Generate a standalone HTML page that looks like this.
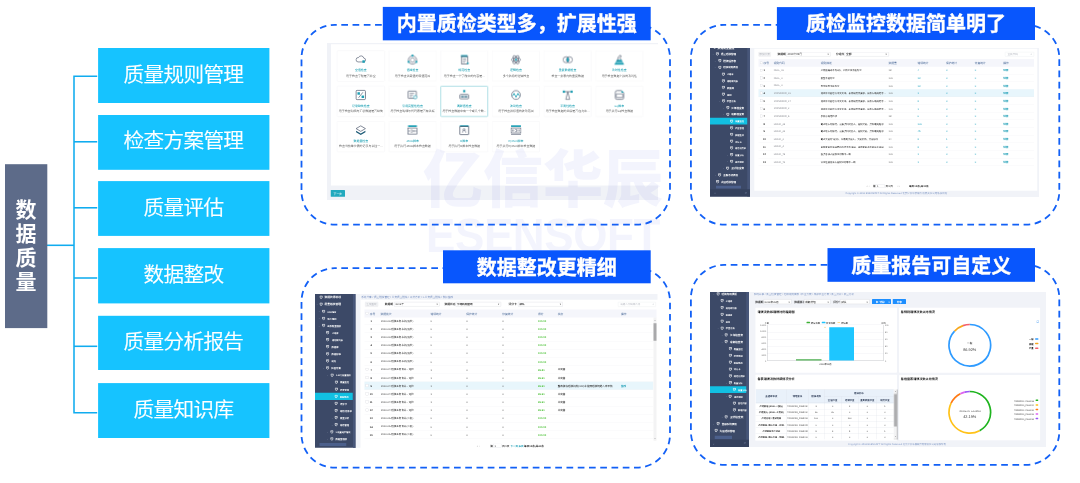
<!DOCTYPE html>
<html lang="zh-CN">
<head>
<meta charset="utf-8">
<title>数据质量</title>
<style>
*{box-sizing:border-box;margin:0;padding:0}
html,body{width:1080px;height:483px;background:#fff;overflow:hidden}
body{position:relative;font-family:"Liberation Sans", "Noto Sans CJK SC", sans-serif;}
.root{position:absolute;left:0;top:0;width:1080px;height:483px;overflow:hidden;background:#fff}
.dark{position:absolute;left:0;top:0;width:52px;text-align:center;color:#fff;font-weight:700;font-size:21px;line-height:24.3px}
.mtxt{position:absolute;left:98px;width:171.4px;color:#fff;font-weight:350;font-size:20.6px;letter-spacing:-.6px;text-indent:-.6px;line-height:30px;height:30px;text-align:center;white-space:nowrap;-webkit-text-stroke:.18px #fff;transform:translateY(-.4px)}
.title{position:absolute;color:#fff;font-weight:700;font-size:20px;text-align:center;white-space:nowrap;-webkit-text-stroke:.35px #fff;text-shadow:.3px .4px .8px rgba(0,10,80,.22)}
.wm{position:absolute;color:rgba(90,105,225,.07);font-weight:900;white-space:nowrap;text-align:center}
svg.ov{position:absolute;left:0;top:0}
.shot{position:absolute;overflow:hidden;filter:blur(.42px)}
.in{position:absolute;left:0;top:0;transform-origin:0 0;transform:scale(.25);font-size:12px;color:#555;text-rendering:geometricPrecision;-webkit-font-smoothing:antialiased}
.in div,.in span,.in svg{position:absolute;white-space:nowrap}
.in .t{line-height:16px;height:16px;filter:blur(.5px)}
</style>
</head>
<body>
<div class="root">
<svg class="ov" width="1080" height="483" viewBox="0 0 1080 483">
<rect x="301.5" y="24.8" width="368.5" height="199.9" rx="33.3" ry="33.3" fill="none" stroke="#1260f6" stroke-width="1.8" stroke-dasharray="6.7 4.55" stroke-dashoffset="-6.5"/>
<rect x="690.9" y="24.8" width="368.4" height="199.9" rx="33.3" ry="33.3" fill="none" stroke="#1260f6" stroke-width="1.8" stroke-dasharray="6.7 4.55" stroke-dashoffset="-6.5"/>
<rect x="301.5" y="268.2" width="368.5" height="199.5" rx="33.3" ry="33.3" fill="none" stroke="#1260f6" stroke-width="1.8" stroke-dasharray="6.7 4.55" stroke-dashoffset="-6.5"/>
<rect x="690.9" y="264.9" width="368.4" height="200" rx="33.3" ry="33.3" fill="none" stroke="#1260f6" stroke-width="1.8" stroke-dasharray="6.7 4.55" stroke-dashoffset="-6.5"/>
</svg>
<div class="shot" style="left:326.7px;top:43.3px;width:331.3px;height:157.2px;background:#fff"><div class="in" style="width:1325.2px;height:628.8px">
<div style="left:0px;top:0px;width:1325.2px;height:628.8px;background:#f0f2f7;"></div>
<div style="left:15.6px;top:5.2px;width:1309.6px;height:564.8px;background:#fff;"></div>
<div style="left:40px;top:30.4px;width:190.8px;height:123.6px;background:#fff;border:1.5px solid #e9e9ee;border-radius:4px;"></div>
<svg style="left:113.4px;top:44.8px" width="44" height="44" viewBox="0 0 40 40"><path d="M10 28h20a7 7 0 0 0 1-14 10 10 0 0 0-19-2 8 8 0 0 0-2 16z" fill="none" stroke="#525c70" stroke-width="2.4"/><rect x="26" y="22" width="9" height="9" fill="#1e9fb4"/></svg>
<div class="t" style="left:-64.6px;width:400px;text-align:center;top:100.9px;font-size:11.8px;color:#2aa6b8;font-weight:500;">空值检查</div>
<div class="t" style="left:-64.6px;width:400px;text-align:center;top:122.5px;font-size:11.8px;color:#5c5c5c;font-weight:400;">用于检查字段是否非空</div>
<div style="left:246.8px;top:30.4px;width:190.8px;height:123.6px;background:#fff;border:1.5px solid #e9e9ee;border-radius:4px;"></div>
<svg style="left:320.2px;top:44.8px" width="44" height="44" viewBox="0 0 40 40"><circle cx="20" cy="21" r="15" fill="none" stroke="#525c70" stroke-width="2.4"/><circle cx="20" cy="21" r="8" fill="none" stroke="#525c70" stroke-width="2"/><circle cx="20" cy="5" r="4" fill="#1e9fb4"/><circle cx="6" cy="28" r="4" fill="#1e9fb4"/><circle cx="34" cy="28" r="4" fill="#1e9fb4"/></svg>
<div class="t" style="left:142.2px;width:400px;text-align:center;top:100.9px;font-size:11.8px;color:#2aa6b8;font-weight:500;">值域检查</div>
<div class="t" style="left:142.2px;width:400px;text-align:center;top:122.5px;font-size:11.8px;color:#5c5c5c;font-weight:400;">用于检查关键值的取值范围</div>
<div style="left:453.6px;top:30.4px;width:190.8px;height:123.6px;background:#fff;border:1.5px solid #e9e9ee;border-radius:4px;"></div>
<svg style="left:527px;top:44.8px" width="44" height="44" viewBox="0 0 40 40"><rect x="8" y="3" width="24" height="7" fill="#1e9fb4"/><rect x="10" y="8" width="22" height="27" fill="none" stroke="#525c70" stroke-width="2.6"/><path d="M15 17h12M15 23h12M15 29h8" stroke="#525c70" stroke-width="2"/><rect x="30" y="30" width="6" height="6" fill="#1e9fb4"/></svg>
<div class="t" style="left:349px;width:400px;text-align:center;top:100.9px;font-size:11.8px;color:#2aa6b8;font-weight:500;">规范检查</div>
<div class="t" style="left:349px;width:400px;text-align:center;top:122.5px;font-size:11.8px;color:#5c5c5c;font-weight:400;">用于检查一个字段中的内容是...</div>
<div style="left:660.4px;top:30.4px;width:190.8px;height:123.6px;background:#fff;border:1.5px solid #e9e9ee;border-radius:4px;"></div>
<svg style="left:733.8px;top:44.8px" width="44" height="44" viewBox="0 0 40 40"><ellipse cx="20" cy="20" rx="17" ry="7" fill="none" stroke="#525c70" stroke-width="2.2"/><ellipse cx="20" cy="20" rx="17" ry="7" fill="none" stroke="#525c70" stroke-width="2.2" transform="rotate(60 20 20)"/><ellipse cx="20" cy="20" rx="17" ry="7" fill="none" stroke="#525c70" stroke-width="2.2" transform="rotate(120 20 20)"/><circle cx="20" cy="20" r="4" fill="#1e9fb4"/></svg>
<div class="t" style="left:555.8px;width:400px;text-align:center;top:100.9px;font-size:11.8px;color:#2aa6b8;font-weight:500;">逻辑检查</div>
<div class="t" style="left:555.8px;width:400px;text-align:center;top:122.5px;font-size:11.8px;color:#5c5c5c;font-weight:400;">多个指标的逻辑检查</div>
<div style="left:867.2px;top:30.4px;width:190.8px;height:123.6px;background:#fff;border:1.5px solid #e9e9ee;border-radius:4px;"></div>
<svg style="left:940.6px;top:44.8px" width="44" height="44" viewBox="0 0 40 40"><circle cx="14" cy="20" r="11" fill="none" stroke="#525c70" stroke-width="2.2"/><circle cx="26" cy="20" r="11" fill="none" stroke="#525c70" stroke-width="2.2"/><ellipse cx="20" cy="20" rx="4" ry="8" fill="#1e9fb4"/></svg>
<div class="t" style="left:762.6px;width:400px;text-align:center;top:100.9px;font-size:11.8px;color:#2aa6b8;font-weight:500;">重复数据检查</div>
<div class="t" style="left:762.6px;width:400px;text-align:center;top:122.5px;font-size:11.8px;color:#5c5c5c;font-weight:400;">检查一张表内的重复数据</div>
<div style="left:1074px;top:30.4px;width:190.8px;height:123.6px;background:#fff;border:1.5px solid #e9e9ee;border-radius:4px;"></div>
<svg style="left:1147.4px;top:44.8px" width="44" height="44" viewBox="0 0 40 40"><path d="M2 38l10-18h16l10 18z" fill="#1e9fb4"/><path d="M14 24c0-12 6-20 10-20s3 8-2 10l6 6" fill="none" stroke="#525c70" stroke-width="2.6"/><path d="M8 30h24" stroke="#fff" stroke-width="2"/></svg>
<div class="t" style="left:969.4px;width:400px;text-align:center;top:100.9px;font-size:11.8px;color:#2aa6b8;font-weight:500;">及时性检查</div>
<div class="t" style="left:969.4px;width:400px;text-align:center;top:122.5px;font-size:11.8px;color:#5c5c5c;font-weight:400;">用于检查数据上报的及时性</div>
<div style="left:40px;top:171.6px;width:190.8px;height:123.6px;background:#fff;border:1.5px solid #e9e9ee;border-radius:4px;"></div>
<svg style="left:113.4px;top:186px" width="44" height="44" viewBox="0 0 40 40"><rect x="3" y="3" width="34" height="34" rx="4" fill="none" stroke="#525c70" stroke-width="2.8"/><rect x="8" y="10" width="9" height="9" fill="#1e9fb4"/><rect x="23" y="22" width="9" height="9" fill="#1e9fb4"/><path d="M28 10L12 30" stroke="#525c70" stroke-width="2.4"/></svg>
<div class="t" style="left:-64.6px;width:400px;text-align:center;top:242.1px;font-size:11.8px;color:#2aa6b8;font-weight:500;">记录缺失检查</div>
<div class="t" style="left:-64.6px;width:400px;text-align:center;top:263.7px;font-size:11.8px;color:#5c5c5c;font-weight:400;">用于检查明细与汇总数据是否缺失</div>
<div style="left:246.8px;top:171.6px;width:190.8px;height:123.6px;background:#fff;border:1.5px solid #e9e9ee;border-radius:4px;"></div>
<svg style="left:320.2px;top:186px" width="44" height="44" viewBox="0 0 40 40"><rect x="4" y="6" width="30" height="26" rx="2" fill="none" stroke="#525c70" stroke-width="2.6"/><path d="M10 14h16M10 20h12M10 26h8" stroke="#525c70" stroke-width="2"/><circle cx="30" cy="28" r="6" fill="#fff" stroke="#1e9fb4" stroke-width="2.4"/></svg>
<div class="t" style="left:142.2px;width:400px;text-align:center;top:242.1px;font-size:11.8px;color:#2aa6b8;font-weight:500;">引用完整性检查</div>
<div class="t" style="left:142.2px;width:400px;text-align:center;top:263.7px;font-size:11.8px;color:#5c5c5c;font-weight:400;">用于检查明细与代码表是否有关联</div>
<div style="left:453.6px;top:171.6px;width:190.8px;height:123.6px;background:#fff;border:2.5px solid #62c0cd;border-radius:4px;"></div>
<svg style="left:527px;top:186px" width="44" height="44" viewBox="0 0 40 40"><rect x="16" y="2" width="8" height="8" fill="#1e9fb4"/><rect x="4" y="18" width="32" height="16" rx="3" fill="none" stroke="#525c70" stroke-width="2.6"/><path d="M10 22v8M15 22v8M20 22v8M25 22v8M30 22v8" stroke="#1f5c78" stroke-width="2.6"/></svg>
<div class="t" style="left:349px;width:400px;text-align:center;top:242.1px;font-size:11.8px;color:#2aa6b8;font-weight:500;">离群值检查</div>
<div class="t" style="left:349px;width:400px;text-align:center;top:263.7px;font-size:11.8px;color:#5c5c5c;font-weight:400;">用于检查数据中有一个或几个数...</div>
<div style="left:660.4px;top:171.6px;width:190.8px;height:123.6px;background:#fff;border:1.5px solid #e9e9ee;border-radius:4px;"></div>
<svg style="left:733.8px;top:186px" width="44" height="44" viewBox="0 0 40 40"><circle cx="20" cy="20" r="16" fill="none" stroke="#525c70" stroke-width="2.4"/><path d="M7 24l6-10 7 14 7-14 6 10" fill="none" stroke="#1e9fb4" stroke-width="3"/></svg>
<div class="t" style="left:555.8px;width:400px;text-align:center;top:242.1px;font-size:11.8px;color:#2aa6b8;font-weight:500;">波动检查</div>
<div class="t" style="left:555.8px;width:400px;text-align:center;top:263.7px;font-size:11.8px;color:#5c5c5c;font-weight:400;">用于检查指标值的波动范围</div>
<div style="left:867.2px;top:171.6px;width:190.8px;height:123.6px;background:#fff;border:1.5px solid #e9e9ee;border-radius:4px;"></div>
<svg style="left:940.6px;top:186px" width="44" height="44" viewBox="0 0 40 40"><path d="M4 8h32" stroke="#525c70" stroke-width="2.4"/><rect x="2" y="4" width="8" height="8" fill="#1e9fb4"/><rect x="30" y="4" width="8" height="8" fill="#1e9fb4"/><path d="M20 8l-7 28h14z" fill="none" stroke="#525c70" stroke-width="2.4"/></svg>
<div class="t" style="left:762.6px;width:400px;text-align:center;top:242.1px;font-size:11.8px;color:#2aa6b8;font-weight:500;">平衡性检查</div>
<div class="t" style="left:762.6px;width:400px;text-align:center;top:263.7px;font-size:11.8px;color:#5c5c5c;font-weight:400;">用于检查数据的关联是否在允许...</div>
<div style="left:1074px;top:171.6px;width:190.8px;height:123.6px;background:#fff;border:1.5px solid #e9e9ee;border-radius:4px;"></div>
<svg style="left:1147.4px;top:186px" width="44" height="44" viewBox="0 0 40 40"><path d="M6 10a6 6 0 0 1 6-6h16l8 8v18a6 6 0 0 1-6 6H12a6 6 0 0 1-6-6z" fill="none" stroke="#525c70" stroke-width="2.6"/><rect x="9" y="16" width="24" height="13" rx="2" fill="none" stroke="#525c70" stroke-width="2.2"/><path d="M28 3l9 9h-9z" fill="#1e9fb4"/></svg>
<div class="t" style="left:969.4px;width:400px;text-align:center;top:242.1px;font-size:11.8px;color:#2aa6b8;font-weight:500;">sql脚本</div>
<div class="t" style="left:969.4px;width:400px;text-align:center;top:263.7px;font-size:11.8px;color:#5c5c5c;font-weight:400;">用于执行sql检查数据</div>
<div style="left:40px;top:312.8px;width:190.8px;height:123.6px;background:#fff;border:1.5px solid #e9e9ee;border-radius:4px;"></div>
<svg style="left:113.4px;top:327.2px" width="44" height="44" viewBox="0 0 40 40"><path d="M20 4l17 10-17 10L3 14z" fill="none" stroke="#525c70" stroke-width="2.6"/><path d="M3 22l17 10 17-10v5L20 37 3 27z" fill="#1f5c78"/></svg>
<div class="t" style="left:-64.6px;width:400px;text-align:center;top:383.3px;font-size:11.8px;color:#2aa6b8;font-weight:500;">数据量检查</div>
<div class="t" style="left:-64.6px;width:400px;text-align:center;top:404.9px;font-size:11.8px;color:#5c5c5c;font-weight:400;">检查当前单位表的记录与以往一...</div>
<div style="left:246.8px;top:312.8px;width:190.8px;height:123.6px;background:#fff;border:1.5px solid #e9e9ee;border-radius:4px;"></div>
<svg style="left:320.2px;top:327.2px" width="44" height="44" viewBox="0 0 40 40"><rect x="4" y="2" width="32" height="6" fill="#1e9fb4"/><rect x="4" y="12" width="32" height="22" fill="none" stroke="#525c70" stroke-width="2.4"/><path d="M9 19v8M14 19h6v8h-6M25 19v8M31 19v8" stroke="#525c70" stroke-width="2" fill="none"/></svg>
<div class="t" style="left:142.2px;width:400px;text-align:center;top:383.3px;font-size:11.8px;color:#2aa6b8;font-weight:500;">JAVA脚本</div>
<div class="t" style="left:142.2px;width:400px;text-align:center;top:404.9px;font-size:11.8px;color:#5c5c5c;font-weight:400;">用于执行JAVA脚本检查数据</div>
<div style="left:453.6px;top:312.8px;width:190.8px;height:123.6px;background:#fff;border:1.5px solid #e9e9ee;border-radius:4px;"></div>
<svg style="left:527px;top:327.2px" width="44" height="44" viewBox="0 0 40 40"><rect x="4" y="2" width="32" height="6" fill="#1e9fb4"/><rect x="4" y="6" width="32" height="30" rx="2" fill="none" stroke="#525c70" stroke-width="2.8"/><path d="M16 15h7v6h-7zM16 21l-2 8M23 21l3 8" stroke="#525c70" stroke-width="2" fill="none"/></svg>
<div class="t" style="left:349px;width:400px;text-align:center;top:383.3px;font-size:11.8px;color:#2aa6b8;font-weight:500;">R脚本</div>
<div class="t" style="left:349px;width:400px;text-align:center;top:404.9px;font-size:11.8px;color:#5c5c5c;font-weight:400;">用于执行R脚本检查数据</div>
<div style="left:660.4px;top:312.8px;width:190.8px;height:123.6px;background:#fff;border:1.5px solid #e9e9ee;border-radius:4px;"></div>
<svg style="left:733.8px;top:327.2px" width="44" height="44" viewBox="0 0 40 40"><rect x="2" y="2" width="36" height="6" fill="#1e9fb4"/><rect x="2" y="12" width="36" height="18" fill="none" stroke="#525c70" stroke-width="2.4"/><path d="M7 17v8M12 17v8M17 17h5v8h-5M27 17v8M32 17v8" stroke="#525c70" stroke-width="2" fill="none"/><path d="M2 35h36" stroke="#525c70" stroke-width="2.4"/></svg>
<div class="t" style="left:555.8px;width:400px;text-align:center;top:383.3px;font-size:11.8px;color:#2aa6b8;font-weight:500;">Python脚本</div>
<div class="t" style="left:555.8px;width:400px;text-align:center;top:404.9px;font-size:11.8px;color:#5c5c5c;font-weight:400;">用于执行Python脚本检查数据</div>
<div style="left:14.8px;top:587.6px;width:57.6px;height:27.2px;background:#22a9be;border-radius:2px;"></div>
<div class="t" style="left:-156.4px;width:400px;text-align:center;top:594.5px;font-size:11.5px;color:#fff;font-weight:400;">下一步</div>
</div></div>
<div class="shot" style="left:710px;top:48.1px;width:329.4px;height:148.8px;background:#f1f3f8"><div class="in" style="width:1317.6px;height:595.2px">
<div style="left:0px;top:0px;width:160px;height:593.6px;background:#3c4967;"></div>
<div style="left:149.2px;top:0px;width:10.8px;height:593.6px;background:#475679;"></div>
<div style="left:0px;top:565.2px;width:160px;height:28.4px;background:#35415d;"></div>
<svg style="left:11.9px;top:-9.8px" width="13" height="14" viewBox="0 0 12 13"><path d="M1.500 1.500h9v6.500l-4.500 3.500l-4.500-3.500z" fill="none" stroke="#fff" stroke-width="2.5"/><path d="M4 5h4" stroke="#fff" stroke-width="2"/></svg>
<div class="t" style="left:30.4px;top:-9.5px;font-size:11.2px;color:#fff;font-weight:700;">数据质量监控</div>
<div class="t" style="left:-188px;width:400px;text-align:center;top:16.57px;font-size:9px;color:#a9b4cc;font-weight:400;">-</div>
<svg style="left:22.7px;top:17.07px" width="13" height="14" viewBox="0 0 12 13"><path d="M1.500 1.500h9v6.500l-4.500 3.500l-4.500-3.500z" fill="none" stroke="#fff" stroke-width="2.5"/><path d="M4 5h4" stroke="#fff" stroke-width="2"/></svg>
<div class="t" style="left:43.6px;top:17.37px;font-size:10.07px;color:#fff;font-weight:700;">质量稽核管理</div>
<div class="t" style="left:-179.2px;width:400px;text-align:center;top:43.44px;font-size:9px;color:#a9b4cc;font-weight:400;">›</div>
<svg style="left:33.1px;top:43.94px" width="13" height="14" viewBox="0 0 12 13"><path d="M1.500 1.500h9v6.500l-4.500 3.500l-4.500-3.500z" fill="none" stroke="#fff" stroke-width="2.5"/><path d="M4 5h4" stroke="#fff" stroke-width="2"/></svg>
<div class="t" style="left:53.2px;top:44.24px;font-size:10.32px;color:#fff;font-weight:700;">稽核任务表</div>
<div class="t" style="left:-179.2px;width:400px;text-align:center;top:70.3px;font-size:9px;color:#a9b4cc;font-weight:400;">-</div>
<svg style="left:33.1px;top:70.8px" width="13" height="14" viewBox="0 0 12 13"><path d="M1.500 1.500h9v6.500l-4.500 3.500l-4.500-3.500z" fill="none" stroke="#fff" stroke-width="2.5"/><path d="M4 5h4" stroke="#fff" stroke-width="2"/></svg>
<div class="t" style="left:53.2px;top:71.1px;font-size:9.8px;color:#fff;font-weight:700;">稽核规则模板</div>
<svg style="left:46.7px;top:97.67px" width="13" height="14" viewBox="0 0 12 13"><path d="M1.500 1.500h9v6.500l-4.500 3.500l-4.500-3.500z" fill="none" stroke="#fff" stroke-width="2.5"/><path d="M4 5h4" stroke="#fff" stroke-width="2"/></svg>
<div class="t" style="left:67.6px;top:97.97px;font-size:8.67px;color:#fff;font-weight:700;">上级库</div>
<svg style="left:46.7px;top:124.54px" width="13" height="14" viewBox="0 0 12 13"><path d="M1.500 1.500h9v6.500l-4.500 3.500l-4.500-3.500z" fill="none" stroke="#fff" stroke-width="2.5"/><path d="M4 5h4" stroke="#fff" stroke-width="2"/></svg>
<div class="t" style="left:67.6px;top:124.84px;font-size:8.88px;color:#fff;font-weight:700;">规则库列表</div>
<svg style="left:46.7px;top:151.41px" width="13" height="14" viewBox="0 0 12 13"><path d="M1.500 1.500h9v6.500l-4.500 3.500l-4.500-3.500z" fill="none" stroke="#fff" stroke-width="2.5"/><path d="M4 5h4" stroke="#fff" stroke-width="2"/></svg>
<div class="t" style="left:67.6px;top:151.71px;font-size:9.47px;color:#fff;font-weight:700;">数据库</div>
<svg style="left:46.7px;top:178.28px" width="13" height="14" viewBox="0 0 12 13"><path d="M1.500 1.500h9v6.500l-4.500 3.500l-4.500-3.500z" fill="none" stroke="#fff" stroke-width="2.5"/><path d="M4 5h4" stroke="#fff" stroke-width="2"/></svg>
<div class="t" style="left:67.6px;top:178.58px;font-size:9px;color:#fff;font-weight:700;">规则</div>
<div class="t" style="left:-162px;width:400px;text-align:center;top:204.64px;font-size:9px;color:#a9b4cc;font-weight:400;">-</div>
<svg style="left:48.3px;top:205.14px" width="13" height="14" viewBox="0 0 12 13"><path d="M1.500 1.500h9v6.500l-4.500 3.500l-4.500-3.500z" fill="none" stroke="#fff" stroke-width="2.5"/><path d="M4 5h4" stroke="#fff" stroke-width="2"/></svg>
<div class="t" style="left:67.2px;top:205.44px;font-size:8.9px;color:#fff;font-weight:700;">检查方案</div>
<div class="t" style="left:-146.4px;width:400px;text-align:center;top:231.51px;font-size:9px;color:#a9b4cc;font-weight:400;">›</div>
<svg style="left:65.1px;top:232.01px" width="13" height="14" viewBox="0 0 12 13"><path d="M1.500 1.500h9v6.500l-4.500 3.500l-4.500-3.500z" fill="none" stroke="#fff" stroke-width="2.5"/><path d="M4 5h4" stroke="#fff" stroke-width="2"/></svg>
<div class="t" style="left:85.2px;top:232.31px;font-size:10.24px;color:#fff;font-weight:700;">江海检查案</div>
<div class="t" style="left:-146.4px;width:400px;text-align:center;top:258.38px;font-size:9px;color:#a9b4cc;font-weight:400;">-</div>
<svg style="left:65.1px;top:258.88px" width="13" height="14" viewBox="0 0 12 13"><path d="M1.500 1.500h9v6.500l-4.500 3.500l-4.500-3.500z" fill="none" stroke="#fff" stroke-width="2.5"/><path d="M4 5h4" stroke="#fff" stroke-width="2"/></svg>
<div class="t" style="left:85.2px;top:259.18px;font-size:10.24px;color:#fff;font-weight:700;">成都检查案</div>
<div style="left:0px;top:279.11px;width:149.2px;height:27.27px;background:#12c0e2;"></div>
<svg style="left:79.5px;top:285.75px" width="13" height="14" viewBox="0 0 12 13"><path d="M1.500 1.500h9v6.500l-4.500 3.500l-4.500-3.500z" fill="none" stroke="#fff" stroke-width="2.5"/><path d="M4 5h4" stroke="#fff" stroke-width="2"/></svg>
<div class="t" style="left:100.8px;top:286.05px;font-size:8.6px;color:#fff;font-weight:700;">质量监控</div>
<svg style="left:79.5px;top:312.62px" width="13" height="14" viewBox="0 0 12 13"><path d="M1.500 1.500h9v6.500l-4.500 3.500l-4.500-3.500z" fill="none" stroke="#fff" stroke-width="2.5"/><path d="M4 5h4" stroke="#fff" stroke-width="2"/></svg>
<div class="t" style="left:100.8px;top:312.92px;font-size:8.6px;color:#fff;font-weight:700;">检查管理</div>
<svg style="left:79.5px;top:339.48px" width="13" height="14" viewBox="0 0 12 13"><path d="M1.500 1.500h9v6.500l-4.500 3.500l-4.500-3.500z" fill="none" stroke="#fff" stroke-width="2.5"/><path d="M4 5h4" stroke="#fff" stroke-width="2"/></svg>
<div class="t" style="left:100.8px;top:339.78px;font-size:8.6px;color:#fff;font-weight:700;">数据整改</div>
<svg style="left:79.5px;top:366.35px" width="13" height="14" viewBox="0 0 12 13"><path d="M1.500 1.500h9v6.500l-4.500 3.500l-4.500-3.500z" fill="none" stroke="#fff" stroke-width="2.5"/><path d="M4 5h4" stroke="#fff" stroke-width="2"/></svg>
<div class="t" style="left:100.8px;top:366.65px;font-size:8.6px;color:#fff;font-weight:700;">评分卡</div>
<svg style="left:79.9px;top:393.22px" width="13" height="14" viewBox="0 0 12 13"><path d="M1.500 1.500h9v6.500l-4.500 3.500l-4.500-3.500z" fill="none" stroke="#fff" stroke-width="2.5"/><path d="M4 5h4" stroke="#fff" stroke-width="2"/></svg>
<div class="t" style="left:100.4px;top:393.52px;font-size:8.6px;color:#fff;font-weight:700;">规范化清单</div>
<div class="t" style="left:-130px;width:400px;text-align:center;top:419.59px;font-size:9px;color:#a9b4cc;font-weight:400;">›</div>
<svg style="left:79.9px;top:420.09px" width="13" height="14" viewBox="0 0 12 13"><path d="M1.500 1.500h9v6.500l-4.500 3.500l-4.500-3.500z" fill="none" stroke="#fff" stroke-width="2.5"/><path d="M4 5h4" stroke="#fff" stroke-width="2"/></svg>
<div class="t" style="left:100.4px;top:420.39px;font-size:8.6px;color:#fff;font-weight:700;">质量分析</div>
<div class="t" style="left:-130px;width:400px;text-align:center;top:446.46px;font-size:9px;color:#a9b4cc;font-weight:400;">›</div>
<svg style="left:79.9px;top:446.96px" width="13" height="14" viewBox="0 0 12 13"><path d="M1.500 1.500h9v6.500l-4.500 3.500l-4.500-3.500z" fill="none" stroke="#fff" stroke-width="2.5"/><path d="M4 5h4" stroke="#fff" stroke-width="2"/></svg>
<div class="t" style="left:100.4px;top:447.26px;font-size:8.6px;color:#fff;font-weight:700;">规范管理</div>
<div class="t" style="left:-146px;width:400px;text-align:center;top:473.32px;font-size:9px;color:#a9b4cc;font-weight:400;">›</div>
<svg style="left:64.3px;top:473.82px" width="13" height="14" viewBox="0 0 12 13"><path d="M1.500 1.500h9v6.500l-4.500 3.500l-4.500-3.500z" fill="none" stroke="#fff" stroke-width="2.5"/><path d="M4 5h4" stroke="#fff" stroke-width="2"/></svg>
<div class="t" style="left:85.2px;top:474.12px;font-size:10.16px;color:#fff;font-weight:700;">卫计检查案</div>
<div class="t" style="left:-178px;width:400px;text-align:center;top:500.19px;font-size:9px;color:#a9b4cc;font-weight:400;">›</div>
<svg style="left:31.9px;top:500.69px" width="13" height="14" viewBox="0 0 12 13"><path d="M1.500 1.500h9v6.500l-4.500 3.500l-4.500-3.500z" fill="none" stroke="#fff" stroke-width="2.5"/><path d="M4 5h4" stroke="#fff" stroke-width="2"/></svg>
<div class="t" style="left:53.2px;top:500.99px;font-size:9.8px;color:#fff;font-weight:700;">金融系统模板</div>
<svg style="left:23.5px;top:527.56px" width="13" height="14" viewBox="0 0 12 13"><path d="M1.500 1.500h9v6.500l-4.500 3.500l-4.500-3.500z" fill="none" stroke="#fff" stroke-width="2.5"/><path d="M4 5h4" stroke="#fff" stroke-width="2"/></svg>
<div class="t" style="left:43.6px;top:527.86px;font-size:10.07px;color:#fff;font-weight:700;">大区稽核管理</div>
<div style="left:24.4px;top:551.2px;width:100px;height:10.4px;background:#4c608c;"></div>
<div class="t" style="left:-180px;width:400px;text-align:center;top:572.1px;font-size:12px;color:#7f8cab;font-weight:400;">«</div>
<div class="t" style="left:-56px;width:400px;text-align:center;top:572.1px;font-size:11px;color:#7f8cab;font-weight:400;">⟳</div>
<div style="left:176.8px;top:3.2px;width:1129.6px;height:568px;background:#fff;"></div>
<div style="left:194px;top:15.6px;width:49.2px;height:18.4px;background:#f1f2f4;border:1px solid #e3e4e8;border-radius:2px;"></div>
<div class="t" style="left:18.4px;width:400px;text-align:center;top:18.1px;font-size:10.5px;color:#b3b6bd;font-weight:400;">添加任务</div>
<div class="t" style="left:269.6px;top:18.1px;font-size:11px;color:#333;font-weight:700;">数据期</div>
<div style="left:304px;top:16.4px;width:178px;height:17.2px;background:#fff;border:1.5px solid #c3c6ce;border-radius:2px;"></div>
<div class="t" style="left:309.6px;top:18.1px;font-size:11px;color:#444;font-weight:400;">2019年09月</div>
<div class="t" style="left:469.6px;top:18.1px;font-size:10px;color:#555;font-weight:400;">▾</div>
<div class="t" style="left:504.4px;top:18.1px;font-size:11px;color:#333;font-weight:700;">分组件</div>
<div style="left:538.4px;top:16.4px;width:176.8px;height:17.2px;background:#fff;border:1.5px solid #c3c6ce;border-radius:2px;"></div>
<div class="t" style="left:544px;top:18.1px;font-size:11px;color:#333;font-weight:700;">全部</div>
<div class="t" style="left:702.4px;top:18.1px;font-size:10px;color:#555;font-weight:400;">▾</div>
<div style="left:1180px;top:15.6px;width:116px;height:18.4px;background:#fff;border:1px solid #e0e2e7;border-radius:2px;"></div>
<div class="t" style="left:1189.6px;top:18.1px;font-size:10.5px;color:#b9bcc4;font-weight:400;">查找代码</div>
<div class="t" style="left:1281.6px;top:18.1px;font-size:11px;color:#9aa0ab;font-weight:400;">○</div>
<div style="left:194.4px;top:44.4px;width:1101.6px;height:30.8px;background:#f5f6fb;"></div>
<div class="t" style="left:214.4px;top:52.9px;font-size:11px;color:#6680a8;font-weight:500;">序号</div>
<div class="t" style="left:254.8px;top:52.9px;font-size:11px;color:#6680a8;font-weight:500;">规则代码</div>
<div class="t" style="left:442.8px;top:52.9px;font-size:11px;color:#6680a8;font-weight:500;">规则描述</div>
<div class="t" style="left:714.4px;top:52.9px;font-size:11px;color:#6680a8;font-weight:500;">数据量</div>
<div class="t" style="left:830px;top:52.9px;font-size:11px;color:#6680a8;font-weight:500;">错误统计</div>
<div class="t" style="left:944px;top:52.9px;font-size:11px;color:#6680a8;font-weight:500;">保护统计</div>
<div class="t" style="left:1058.8px;top:52.9px;font-size:11px;color:#6680a8;font-weight:500;">修复统计</div>
<div class="t" style="left:1172.8px;top:52.9px;font-size:11px;color:#6680a8;font-weight:500;">操作</div>
<div style="left:200px;top:54.8px;width:9.6px;height:9.6px;background:#fff;border:1px solid #c9ccd4;"></div>
<div style="left:194.4px;top:103.8px;width:1101.6px;height:0.8px;background:#eceef2;"></div>
<div style="left:200px;top:83.6px;width:8.8px;height:10.4px;background:#fff;border:1px solid #c9ccd4;"></div>
<div class="t" style="left:214.4px;top:82.1px;font-size:10.5px;color:#333;font-weight:700;">1</div>
<div class="t" style="left:254.8px;top:82.1px;font-size:9.6px;color:#85878e;font-weight:400;">NULL_16</div>
<div class="t" style="left:442.8px;top:82.1px;font-size:9.3px;color:#3c3c3c;font-weight:500;">严格按编码不为3的、严格空项不能为空</div>
<div class="t" style="left:714.4px;top:82.1px;font-size:10.5px;color:#777;font-weight:400;">18</div>
<div class="t" style="left:830px;top:82.1px;font-size:10.5px;color:#22a3c0;font-weight:500;">4</div>
<div class="t" style="left:944px;top:82.1px;font-size:10.5px;color:#22a3c0;font-weight:500;">0</div>
<div class="t" style="left:1058.8px;top:82.1px;font-size:10.5px;color:#22a3c0;font-weight:500;">0</div>
<div class="t" style="left:1172.8px;top:82.1px;font-size:10.5px;color:#1f9fb6;font-weight:700;">详情</div>
<div style="left:194.4px;top:134.32px;width:1101.6px;height:0.8px;background:#eceef2;"></div>
<div style="left:200px;top:114.12px;width:8.8px;height:10.4px;background:#fff;border:1px solid #c9ccd4;"></div>
<div class="t" style="left:214.4px;top:112.62px;font-size:10.5px;color:#333;font-weight:700;">2</div>
<div class="t" style="left:254.8px;top:112.62px;font-size:9.6px;color:#85878e;font-weight:400;">NULL_3</div>
<div class="t" style="left:442.8px;top:112.62px;font-size:9.3px;color:#3c3c3c;font-weight:500;">批签不能为空</div>
<div class="t" style="left:714.4px;top:112.62px;font-size:10.5px;color:#777;font-weight:400;">100</div>
<div class="t" style="left:830px;top:112.62px;font-size:10.5px;color:#22a3c0;font-weight:500;">13</div>
<div class="t" style="left:944px;top:112.62px;font-size:10.5px;color:#22a3c0;font-weight:500;">0</div>
<div class="t" style="left:1058.8px;top:112.62px;font-size:10.5px;color:#22a3c0;font-weight:500;">0</div>
<div class="t" style="left:1172.8px;top:112.62px;font-size:10.5px;color:#1f9fb6;font-weight:700;">详情</div>
<div style="left:194.4px;top:164.84px;width:1101.6px;height:0.8px;background:#eceef2;"></div>
<div style="left:200px;top:144.64px;width:8.8px;height:10.4px;background:#fff;border:1px solid #c9ccd4;"></div>
<div class="t" style="left:214.4px;top:143.14px;font-size:10.5px;color:#333;font-weight:700;">3</div>
<div class="t" style="left:254.8px;top:143.14px;font-size:9.6px;color:#85878e;font-weight:400;">NULL_3</div>
<div class="t" style="left:442.8px;top:143.14px;font-size:9.3px;color:#3c3c3c;font-weight:500;">签字项签不能为空</div>
<div class="t" style="left:714.4px;top:143.14px;font-size:10.5px;color:#777;font-weight:400;">100</div>
<div class="t" style="left:830px;top:143.14px;font-size:10.5px;color:#22a3c0;font-weight:500;">13</div>
<div class="t" style="left:944px;top:143.14px;font-size:10.5px;color:#22a3c0;font-weight:500;">0</div>
<div class="t" style="left:1058.8px;top:143.14px;font-size:10.5px;color:#22a3c0;font-weight:500;">0</div>
<div class="t" style="left:1172.8px;top:143.14px;font-size:10.5px;color:#1f9fb6;font-weight:700;">详情</div>
<div style="left:194.4px;top:165.16px;width:1101.6px;height:30.4px;background:#e8f6fc;"></div>
<div style="left:194.4px;top:195.36px;width:1101.6px;height:0.8px;background:#eceef2;"></div>
<div style="left:200px;top:175.16px;width:8.8px;height:10.4px;background:#fff;border:1px solid #c9ccd4;"></div>
<div class="t" style="left:214.4px;top:173.66px;font-size:10.5px;color:#333;font-weight:700;">4</div>
<div class="t" style="left:254.8px;top:173.66px;font-size:9.6px;color:#85878e;font-weight:400;">STANDARD_16</div>
<div class="t" style="left:442.8px;top:173.66px;font-size:9.3px;color:#3c3c3c;font-weight:500;">测试中只能包含中文文本、长格规范合要求、长格入纸规范字 ...</div>
<div class="t" style="left:714.4px;top:173.66px;font-size:10.5px;color:#777;font-weight:400;">100</div>
<div class="t" style="left:830px;top:173.66px;font-size:10.5px;color:#22a3c0;font-weight:500;">1</div>
<div class="t" style="left:944px;top:173.66px;font-size:10.5px;color:#22a3c0;font-weight:500;">0</div>
<div class="t" style="left:1058.8px;top:173.66px;font-size:10.5px;color:#22a3c0;font-weight:500;">0</div>
<div class="t" style="left:1172.8px;top:173.66px;font-size:10.5px;color:#1f9fb6;font-weight:700;">详情</div>
<div style="left:194.4px;top:225.88px;width:1101.6px;height:0.8px;background:#eceef2;"></div>
<div style="left:200px;top:205.68px;width:8.8px;height:10.4px;background:#fff;border:1px solid #c9ccd4;"></div>
<div class="t" style="left:214.4px;top:204.18px;font-size:10.5px;color:#333;font-weight:700;">5</div>
<div class="t" style="left:254.8px;top:204.18px;font-size:9.6px;color:#85878e;font-weight:400;">STANDARD_17</div>
<div class="t" style="left:442.8px;top:204.18px;font-size:9.3px;color:#3c3c3c;font-weight:500;">测试中只能包含中文文本、长格规范合要求、长格入纸规范字 ...</div>
<div class="t" style="left:714.4px;top:204.18px;font-size:10.5px;color:#777;font-weight:400;">100</div>
<div class="t" style="left:830px;top:204.18px;font-size:10.5px;color:#22a3c0;font-weight:500;">2</div>
<div class="t" style="left:944px;top:204.18px;font-size:10.5px;color:#22a3c0;font-weight:500;">0</div>
<div class="t" style="left:1058.8px;top:204.18px;font-size:10.5px;color:#22a3c0;font-weight:500;">0</div>
<div class="t" style="left:1172.8px;top:204.18px;font-size:10.5px;color:#1f9fb6;font-weight:700;">详情</div>
<div style="left:194.4px;top:256.4px;width:1101.6px;height:0.8px;background:#eceef2;"></div>
<div style="left:200px;top:236.2px;width:8.8px;height:10.4px;background:#fff;border:1px solid #c9ccd4;"></div>
<div class="t" style="left:214.4px;top:234.7px;font-size:10.5px;color:#333;font-weight:700;">6</div>
<div class="t" style="left:254.8px;top:234.7px;font-size:9.6px;color:#85878e;font-weight:400;">STANDARD_2</div>
<div class="t" style="left:442.8px;top:234.7px;font-size:9.3px;color:#3c3c3c;font-weight:500;">测试中只能包含中文文本、长格规范合要求、长格入纸规范字 ...</div>
<div class="t" style="left:714.4px;top:234.7px;font-size:10.5px;color:#777;font-weight:400;">100</div>
<div class="t" style="left:830px;top:234.7px;font-size:10.5px;color:#22a3c0;font-weight:500;">1</div>
<div class="t" style="left:944px;top:234.7px;font-size:10.5px;color:#22a3c0;font-weight:500;">0</div>
<div class="t" style="left:1058.8px;top:234.7px;font-size:10.5px;color:#22a3c0;font-weight:500;">0</div>
<div class="t" style="left:1172.8px;top:234.7px;font-size:10.5px;color:#1f9fb6;font-weight:700;">详情</div>
<div style="left:194.4px;top:286.92px;width:1101.6px;height:0.8px;background:#eceef2;"></div>
<div style="left:200px;top:266.72px;width:8.8px;height:10.4px;background:#fff;border:1px solid #c9ccd4;"></div>
<div class="t" style="left:214.4px;top:265.22px;font-size:10.5px;color:#333;font-weight:700;">7</div>
<div class="t" style="left:254.8px;top:265.22px;font-size:9.6px;color:#85878e;font-weight:400;">STANDARD_5</div>
<div class="t" style="left:442.8px;top:265.22px;font-size:9.3px;color:#3c3c3c;font-weight:500;">手机号规范检验</div>
<div class="t" style="left:714.4px;top:265.22px;font-size:10.5px;color:#777;font-weight:400;">18</div>
<div class="t" style="left:830px;top:265.22px;font-size:10.5px;color:#22a3c0;font-weight:500;">6</div>
<div class="t" style="left:944px;top:265.22px;font-size:10.5px;color:#22a3c0;font-weight:500;">0</div>
<div class="t" style="left:1058.8px;top:265.22px;font-size:10.5px;color:#22a3c0;font-weight:500;">0</div>
<div class="t" style="left:1172.8px;top:265.22px;font-size:10.5px;color:#1f9fb6;font-weight:700;">详情</div>
<div style="left:194.4px;top:317.44px;width:1101.6px;height:0.8px;background:#eceef2;"></div>
<div class="t" style="left:214.4px;top:295.74px;font-size:10.5px;color:#333;font-weight:700;">8</div>
<div class="t" style="left:254.8px;top:295.74px;font-size:9.6px;color:#85878e;font-weight:400;">LOGIC_28</div>
<div class="t" style="left:442.8px;top:295.74px;font-size:9.3px;color:#3c3c3c;font-weight:500;">截止地市为银行、需要资料对比人、股权交易、资料填充超过</div>
<div class="t" style="left:714.4px;top:295.74px;font-size:10.5px;color:#777;font-weight:400;">100</div>
<div class="t" style="left:830px;top:295.74px;font-size:10.5px;color:#22a3c0;font-weight:500;">100</div>
<div class="t" style="left:944px;top:295.74px;font-size:10.5px;color:#22a3c0;font-weight:500;">0</div>
<div class="t" style="left:1058.8px;top:295.74px;font-size:10.5px;color:#22a3c0;font-weight:500;">0</div>
<div class="t" style="left:1172.8px;top:295.74px;font-size:10.5px;color:#1f9fb6;font-weight:700;">详情</div>
<div style="left:194.4px;top:347.96px;width:1101.6px;height:0.8px;background:#eceef2;"></div>
<div class="t" style="left:214.4px;top:326.26px;font-size:10.5px;color:#333;font-weight:700;">9</div>
<div class="t" style="left:254.8px;top:326.26px;font-size:9.6px;color:#85878e;font-weight:400;">LOGIC_26</div>
<div class="t" style="left:442.8px;top:326.26px;font-size:9.3px;color:#3c3c3c;font-weight:500;">截止地市为银行、需要资料对比人、股权交易、资料填充超过</div>
<div class="t" style="left:714.4px;top:326.26px;font-size:10.5px;color:#777;font-weight:400;">100</div>
<div class="t" style="left:830px;top:326.26px;font-size:10.5px;color:#22a3c0;font-weight:500;">45</div>
<div class="t" style="left:944px;top:326.26px;font-size:10.5px;color:#22a3c0;font-weight:500;">0</div>
<div class="t" style="left:1058.8px;top:326.26px;font-size:10.5px;color:#22a3c0;font-weight:500;">0</div>
<div class="t" style="left:1172.8px;top:326.26px;font-size:10.5px;color:#1f9fb6;font-weight:700;">详情</div>
<div style="left:194.4px;top:378.48px;width:1101.6px;height:0.8px;background:#eceef2;"></div>
<div class="t" style="left:212px;top:356.78px;font-size:10.5px;color:#333;font-weight:700;">10</div>
<div class="t" style="left:254.8px;top:356.78px;font-size:9.6px;color:#85878e;font-weight:400;">LOGIC_2</div>
<div class="t" style="left:442.8px;top:356.78px;font-size:9.3px;color:#3c3c3c;font-weight:500;">截止交易为"是"的、认缴其交易人、交易价格、交易原因</div>
<div class="t" style="left:714.4px;top:356.78px;font-size:10.5px;color:#777;font-weight:400;">14</div>
<div class="t" style="left:830px;top:356.78px;font-size:10.5px;color:#22a3c0;font-weight:500;">2</div>
<div class="t" style="left:944px;top:356.78px;font-size:10.5px;color:#22a3c0;font-weight:500;">1</div>
<div class="t" style="left:1058.8px;top:356.78px;font-size:10.5px;color:#22a3c0;font-weight:500;">0</div>
<div class="t" style="left:1172.8px;top:356.78px;font-size:10.5px;color:#1f9fb6;font-weight:700;">详情</div>
<div style="left:194.4px;top:409px;width:1101.6px;height:0.8px;background:#eceef2;"></div>
<div class="t" style="left:212px;top:387.3px;font-size:10.5px;color:#333;font-weight:700;">11</div>
<div class="t" style="left:254.8px;top:387.3px;font-size:9.6px;color:#85878e;font-weight:400;">LOGIC_4</div>
<div class="t" style="left:442.8px;top:387.3px;font-size:9.3px;color:#3c3c3c;font-weight:500;">更改变更为法回复的内容不为法回、更改变更必不能长于法回</div>
<div class="t" style="left:714.4px;top:387.3px;font-size:10.5px;color:#777;font-weight:400;">100</div>
<div class="t" style="left:830px;top:387.3px;font-size:10.5px;color:#22a3c0;font-weight:500;">2</div>
<div class="t" style="left:944px;top:387.3px;font-size:10.5px;color:#22a3c0;font-weight:500;">0</div>
<div class="t" style="left:1058.8px;top:387.3px;font-size:10.5px;color:#22a3c0;font-weight:500;">0</div>
<div class="t" style="left:1172.8px;top:387.3px;font-size:10.5px;color:#1f9fb6;font-weight:700;">详情</div>
<div style="left:194.4px;top:439.52px;width:1101.6px;height:0.8px;background:#eceef2;"></div>
<div class="t" style="left:212px;top:417.82px;font-size:10.5px;color:#333;font-weight:700;">12</div>
<div class="t" style="left:254.8px;top:417.82px;font-size:9.6px;color:#85878e;font-weight:400;">LOGIC_75</div>
<div class="t" style="left:442.8px;top:417.82px;font-size:9.3px;color:#3c3c3c;font-weight:500;">投资总法人股权证对等不一致</div>
<div class="t" style="left:714.4px;top:417.82px;font-size:10.5px;color:#777;font-weight:400;">100</div>
<div class="t" style="left:830px;top:417.82px;font-size:10.5px;color:#22a3c0;font-weight:500;">1</div>
<div class="t" style="left:944px;top:417.82px;font-size:10.5px;color:#22a3c0;font-weight:500;">0</div>
<div class="t" style="left:1058.8px;top:417.82px;font-size:10.5px;color:#22a3c0;font-weight:500;">0</div>
<div class="t" style="left:1172.8px;top:417.82px;font-size:10.5px;color:#1f9fb6;font-weight:700;">详情</div>
<div style="left:194.4px;top:470.04px;width:1101.6px;height:0.8px;background:#eceef2;"></div>
<div class="t" style="left:212px;top:448.34px;font-size:10.5px;color:#333;font-weight:700;">13</div>
<div class="t" style="left:254.8px;top:448.34px;font-size:9.6px;color:#85878e;font-weight:400;">LOGIC_76</div>
<div class="t" style="left:442.8px;top:448.34px;font-size:9.3px;color:#3c3c3c;font-weight:500;">认证注册总法人股权证对等不一致</div>
<div class="t" style="left:714.4px;top:448.34px;font-size:10.5px;color:#777;font-weight:400;">100</div>
<div class="t" style="left:830px;top:448.34px;font-size:10.5px;color:#22a3c0;font-weight:500;">1</div>
<div class="t" style="left:944px;top:448.34px;font-size:10.5px;color:#22a3c0;font-weight:500;">0</div>
<div class="t" style="left:1058.8px;top:448.34px;font-size:10.5px;color:#22a3c0;font-weight:500;">0</div>
<div class="t" style="left:1172.8px;top:448.34px;font-size:10.5px;color:#1f9fb6;font-weight:700;">详情</div>
<div class="t" style="left:626.4px;top:546.1px;font-size:10px;color:#bbb;font-weight:400;">«  ‹</div>
<div class="t" style="left:652px;top:546.1px;font-size:10.5px;color:#444;font-weight:700;">第</div>
<div style="left:663.2px;top:545.6px;width:35.2px;height:14.8px;background:#fff;border:1px solid #d0d3da;"></div>
<div class="t" style="left:668px;top:546.1px;font-size:10.5px;color:#444;font-weight:400;">1</div>
<div class="t" style="left:701.6px;top:546.1px;font-size:10.5px;color:#444;font-weight:500;">页/1页</div>
<div class="t" style="left:748px;top:546.1px;font-size:10px;color:#bbb;font-weight:400;">›  »</div>
<div class="t" style="left:796px;top:546.1px;font-size:10.5px;color:#333;font-weight:700;">每页15条,共13条</div>
<div class="t" style="left:542px;width:400px;text-align:center;top:575.3px;font-size:10px;color:#7f97c4;font-weight:400;">Copyright © 2018 ESENSOFT All Rights Reserved 北京亿信华辰软件有限责任公司版权所有</div>
</div></div>
<div class="shot" style="left:315.2px;top:293.8px;width:342.4px;height:156px;background:#fff"><div class="in" style="width:1369.6px;height:624px">
<div style="left:-0.2px;top:0px;width:163.4px;height:614.8px;background:#3c4967;"></div>
<div style="left:152px;top:0px;width:11.2px;height:614.8px;background:#475679;"></div>
<svg style="left:18.3px;top:5.8px" width="13" height="14" viewBox="0 0 12 13"><path d="M1.500 1.500h9v6.500l-4.500 3.500l-4.500-3.500z" fill="none" stroke="#fff" stroke-width="2.5"/><path d="M4 5h4" stroke="#fff" stroke-width="2"/></svg>
<div class="t" style="left:38.4px;top:6.1px;font-size:10.93px;color:#fff;font-weight:700;">数据资源总线</div>
<div class="t" style="left:-191.6px;width:400px;text-align:center;top:33.66px;font-size:9px;color:#a9b4cc;font-weight:400;">-</div>
<svg style="left:18.3px;top:34.16px" width="13" height="14" viewBox="0 0 12 13"><path d="M1.500 1.500h9v6.500l-4.500 3.500l-4.500-3.500z" fill="none" stroke="#fff" stroke-width="2.5"/><path d="M4 5h4" stroke="#fff" stroke-width="2"/></svg>
<div class="t" style="left:38.4px;top:34.46px;font-size:10.93px;color:#fff;font-weight:700;">质量稽核管理</div>
<div class="t" style="left:-184px;width:400px;text-align:center;top:62.02px;font-size:9px;color:#a9b4cc;font-weight:400;">›</div>
<svg style="left:27.9px;top:62.52px" width="13" height="14" viewBox="0 0 12 13"><path d="M1.500 1.500h9v6.500l-4.500 3.500l-4.500-3.500z" fill="none" stroke="#fff" stroke-width="2.5"/><path d="M4 5h4" stroke="#fff" stroke-width="2"/></svg>
<div class="t" style="left:49.2px;top:62.82px;font-size:8.6px;color:#fff;font-weight:700;">ODS稽核</div>
<div class="t" style="left:-184px;width:400px;text-align:center;top:90.38px;font-size:9px;color:#a9b4cc;font-weight:400;">›</div>
<svg style="left:27.9px;top:90.88px" width="13" height="14" viewBox="0 0 12 13"><path d="M1.500 1.500h9v6.500l-4.500 3.500l-4.500-3.500z" fill="none" stroke="#fff" stroke-width="2.5"/><path d="M4 5h4" stroke="#fff" stroke-width="2"/></svg>
<div class="t" style="left:49.2px;top:91.18px;font-size:9.2px;color:#fff;font-weight:700;">客户稽核</div>
<div class="t" style="left:-184px;width:400px;text-align:center;top:118.74px;font-size:9px;color:#a9b4cc;font-weight:400;">-</div>
<svg style="left:27.9px;top:119.24px" width="13" height="14" viewBox="0 0 12 13"><path d="M1.500 1.500h9v6.500l-4.500 3.500l-4.500-3.500z" fill="none" stroke="#fff" stroke-width="2.5"/><path d="M4 5h4" stroke="#fff" stroke-width="2"/></svg>
<div class="t" style="left:49.2px;top:119.54px;font-size:9.13px;color:#fff;font-weight:700;">业务质量稽核</div>
<svg style="left:44.3px;top:147.6px" width="13" height="14" viewBox="0 0 12 13"><path d="M1.500 1.500h9v6.500l-4.500 3.500l-4.500-3.500z" fill="none" stroke="#fff" stroke-width="2.5"/><path d="M4 5h4" stroke="#fff" stroke-width="2"/></svg>
<div class="t" style="left:68px;top:147.9px;font-size:8.6px;color:#fff;font-weight:700;">上级库</div>
<svg style="left:44.3px;top:175.96px" width="13" height="14" viewBox="0 0 12 13"><path d="M1.500 1.500h9v6.500l-4.500 3.500l-4.500-3.500z" fill="none" stroke="#fff" stroke-width="2.5"/><path d="M4 5h4" stroke="#fff" stroke-width="2"/></svg>
<div class="t" style="left:68px;top:176.26px;font-size:8.72px;color:#fff;font-weight:700;">规则库列表</div>
<svg style="left:44.3px;top:204.32px" width="13" height="14" viewBox="0 0 12 13"><path d="M1.500 1.500h9v6.500l-4.500 3.500l-4.500-3.500z" fill="none" stroke="#fff" stroke-width="2.5"/><path d="M4 5h4" stroke="#fff" stroke-width="2"/></svg>
<div class="t" style="left:66.4px;top:204.62px;font-size:9.33px;color:#fff;font-weight:700;">数据库</div>
<svg style="left:44.3px;top:232.68px" width="13" height="14" viewBox="0 0 12 13"><path d="M1.500 1.500h9v6.500l-4.500 3.500l-4.500-3.500z" fill="none" stroke="#fff" stroke-width="2.5"/><path d="M4 5h4" stroke="#fff" stroke-width="2"/></svg>
<div class="t" style="left:66.4px;top:232.98px;font-size:9.2px;color:#fff;font-weight:700;">数据标准</div>
<svg style="left:44.3px;top:261.04px" width="13" height="14" viewBox="0 0 12 13"><path d="M1.500 1.500h9v6.500l-4.500 3.500l-4.500-3.500z" fill="none" stroke="#fff" stroke-width="2.5"/><path d="M4 5h4" stroke="#fff" stroke-width="2"/></svg>
<div class="t" style="left:66.4px;top:261.34px;font-size:8.6px;color:#fff;font-weight:700;">规则</div>
<div class="t" style="left:-166.8px;width:400px;text-align:center;top:288.9px;font-size:9px;color:#a9b4cc;font-weight:400;">-</div>
<svg style="left:44.3px;top:289.4px" width="13" height="14" viewBox="0 0 12 13"><path d="M1.500 1.500h9v6.500l-4.500 3.500l-4.500-3.500z" fill="none" stroke="#fff" stroke-width="2.5"/><path d="M4 5h4" stroke="#fff" stroke-width="2"/></svg>
<div class="t" style="left:65.2px;top:289.7px;font-size:9.5px;color:#fff;font-weight:700;">检查方案</div>
<div class="t" style="left:-149.2px;width:400px;text-align:center;top:317.26px;font-size:9px;color:#a9b4cc;font-weight:400;">-</div>
<svg style="left:61.5px;top:317.76px" width="13" height="14" viewBox="0 0 12 13"><path d="M1.500 1.500h9v6.500l-4.500 3.500l-4.500-3.500z" fill="none" stroke="#fff" stroke-width="2.5"/><path d="M4 5h4" stroke="#fff" stroke-width="2"/></svg>
<div class="t" style="left:83.6px;top:318.06px;font-size:8.6px;color:#fff;font-weight:700;">1-业务质量稽核</div>
<svg style="left:78.7px;top:346.12px" width="13" height="14" viewBox="0 0 12 13"><path d="M1.500 1.500h9v6.500l-4.500 3.500l-4.500-3.500z" fill="none" stroke="#fff" stroke-width="2.5"/><path d="M4 5h4" stroke="#fff" stroke-width="2"/></svg>
<div class="t" style="left:99.6px;top:346.42px;font-size:9px;color:#fff;font-weight:700;">质量监控</div>
<svg style="left:78.7px;top:374.48px" width="13" height="14" viewBox="0 0 12 13"><path d="M1.500 1.500h9v6.500l-4.500 3.500l-4.500-3.500z" fill="none" stroke="#fff" stroke-width="2.5"/><path d="M4 5h4" stroke="#fff" stroke-width="2"/></svg>
<div class="t" style="left:99.6px;top:374.78px;font-size:9px;color:#fff;font-weight:700;">检查管理</div>
<div style="left:-0.2px;top:395.46px;width:151.4px;height:28.76px;background:#12c0e2;"></div>
<svg style="left:78.3px;top:402.84px" width="13" height="14" viewBox="0 0 12 13"><path d="M1.500 1.500h9v6.500l-4.500 3.500l-4.500-3.500z" fill="none" stroke="#fff" stroke-width="2.5"/><path d="M4 5h4" stroke="#fff" stroke-width="2"/></svg>
<div class="t" style="left:99.6px;top:403.14px;font-size:8.9px;color:#fff;font-weight:700;">数据整改</div>
<svg style="left:78.3px;top:431.2px" width="13" height="14" viewBox="0 0 12 13"><path d="M1.500 1.500h9v6.500l-4.500 3.500l-4.500-3.500z" fill="none" stroke="#fff" stroke-width="2.5"/><path d="M4 5h4" stroke="#fff" stroke-width="2"/></svg>
<div class="t" style="left:99.6px;top:431.5px;font-size:9.47px;color:#fff;font-weight:700;">评分卡</div>
<svg style="left:78.3px;top:459.56px" width="13" height="14" viewBox="0 0 12 13"><path d="M1.500 1.500h9v6.500l-4.500 3.500l-4.500-3.500z" fill="none" stroke="#fff" stroke-width="2.5"/><path d="M4 5h4" stroke="#fff" stroke-width="2"/></svg>
<div class="t" style="left:99.6px;top:459.86px;font-size:9.6px;color:#fff;font-weight:700;">规范化清单</div>
<div class="t" style="left:-131.6px;width:400px;text-align:center;top:487.42px;font-size:9px;color:#a9b4cc;font-weight:400;">›</div>
<svg style="left:78.3px;top:487.92px" width="13" height="14" viewBox="0 0 12 13"><path d="M1.500 1.500h9v6.500l-4.500 3.500l-4.500-3.500z" fill="none" stroke="#fff" stroke-width="2.5"/><path d="M4 5h4" stroke="#fff" stroke-width="2"/></svg>
<div class="t" style="left:99.6px;top:488.22px;font-size:9.2px;color:#fff;font-weight:700;">质量分析</div>
<div class="t" style="left:-131.6px;width:400px;text-align:center;top:515.78px;font-size:9px;color:#a9b4cc;font-weight:400;">›</div>
<svg style="left:78.3px;top:516.28px" width="13" height="14" viewBox="0 0 12 13"><path d="M1.500 1.500h9v6.500l-4.500 3.500l-4.500-3.500z" fill="none" stroke="#fff" stroke-width="2.5"/><path d="M4 5h4" stroke="#fff" stroke-width="2"/></svg>
<div class="t" style="left:99.6px;top:516.58px;font-size:9.2px;color:#fff;font-weight:700;">规范管理</div>
<div class="t" style="left:-149.2px;width:400px;text-align:center;top:544.14px;font-size:9px;color:#a9b4cc;font-weight:400;">›</div>
<svg style="left:60.7px;top:544.64px" width="13" height="14" viewBox="0 0 12 13"><path d="M1.500 1.500h9v6.500l-4.500 3.500l-4.500-3.500z" fill="none" stroke="#fff" stroke-width="2.5"/><path d="M4 5h4" stroke="#fff" stroke-width="2"/></svg>
<div class="t" style="left:82px;top:544.94px;font-size:8.6px;color:#fff;font-weight:700;">1-质量巡检稽核</div>
<div class="t" style="left:-149.2px;width:400px;text-align:center;top:572.5px;font-size:9px;color:#a9b4cc;font-weight:400;">›</div>
<svg style="left:60.7px;top:573px" width="13" height="14" viewBox="0 0 12 13"><path d="M1.500 1.500h9v6.500l-4.500 3.500l-4.500-3.500z" fill="none" stroke="#fff" stroke-width="2.5"/><path d="M4 5h4" stroke="#fff" stroke-width="2"/></svg>
<div class="t" style="left:82px;top:573.3px;font-size:9.2px;color:#fff;font-weight:700;">数据量稽核</div>
<div style="left:18.4px;top:596px;width:106.8px;height:12.4px;background:#4c608c;"></div>
<div style="left:163.2px;top:0px;width:18.8px;height:614.8px;background:#f1f3f8;"></div>
<div style="left:182px;top:0px;width:1187.6px;height:23.2px;background:#f1f3f8;"></div>
<div class="t" style="left:184.8px;top:4.5px;font-size:10.5px;color:#7f97c4;font-weight:400;">系统共享 / 质量稽核管理 / 业务质量稽核 / 评分方案 / 1-业务质量稽核 / 数据整改</div>
<div style="left:200px;top:31.2px;width:52.8px;height:20px;background:#f1f2f4;border:1px solid #e6e7ea;border-radius:2px;"></div>
<div class="t" style="left:26.4px;width:400px;text-align:center;top:33.7px;font-size:10px;color:#bcbfc6;font-weight:400;">生成整改</div>
<div class="t" style="left:279.2px;top:33.7px;font-size:11px;color:#333;font-weight:700;">数据期</div>
<div style="left:316px;top:32.4px;width:182.4px;height:18px;background:#fff;border:1.5px solid #c3c6ce;border-radius:2px;"></div>
<div class="t" style="left:321.6px;top:33.7px;font-size:10.5px;color:#444;font-weight:400;">2019年</div>
<div class="t" style="left:486.4px;top:33.7px;font-size:10px;color:#555;font-weight:400;">▾</div>
<div class="t" style="left:517.6px;top:33.7px;font-size:11px;color:#333;font-weight:700;">数据状态</div>
<div style="left:561.6px;top:32.4px;width:182.8px;height:18px;background:#fff;border:1.5px solid #c3c6ce;border-radius:2px;"></div>
<div class="t" style="left:567.2px;top:33.7px;font-size:10.5px;color:#222;font-weight:700;">下级机构整改</div>
<div class="t" style="left:732px;top:33.7px;font-size:10px;color:#555;font-weight:400;">▾</div>
<div class="t" style="left:773.6px;top:33.7px;font-size:11px;color:#333;font-weight:700;">评分卡</div>
<div style="left:812px;top:32.4px;width:179.2px;height:18px;background:#fff;border:1.5px solid #c3c6ce;border-radius:2px;"></div>
<div class="t" style="left:817.6px;top:33.7px;font-size:10.5px;color:#222;font-weight:700;">默认</div>
<div class="t" style="left:979.2px;top:33.7px;font-size:10px;color:#555;font-weight:400;">▾</div>
<div style="left:1212px;top:32px;width:151.2px;height:18.8px;background:#fff;border:1px solid #e0e2e7;border-radius:2px;"></div>
<div class="t" style="left:1220.8px;top:33.7px;font-size:10px;color:#b9bcc4;font-weight:400;">请输入代码或名称</div>
<div class="t" style="left:1349.6px;top:33.7px;font-size:11px;color:#9aa0ab;font-weight:400;">○</div>
<div style="left:197.6px;top:61.6px;width:1168.8px;height:31.2px;background:#f5f6fb;"></div>
<div class="t" style="left:219.2px;top:70.5px;font-size:11px;color:#6680a8;font-weight:500;">序号</div>
<div class="t" style="left:262.4px;top:70.5px;font-size:11px;color:#6680a8;font-weight:500;">数据批次</div>
<div class="t" style="left:462px;top:70.5px;font-size:11px;color:#6680a8;font-weight:500;">错误统计</div>
<div class="t" style="left:605.2px;top:70.5px;font-size:11px;color:#6680a8;font-weight:500;">保护统计</div>
<div class="t" style="left:748.8px;top:70.5px;font-size:11px;color:#6680a8;font-weight:500;">修复统计</div>
<div class="t" style="left:892.4px;top:70.5px;font-size:11px;color:#6680a8;font-weight:500;">得分</div>
<div class="t" style="left:970.8px;top:70.5px;font-size:11px;color:#6680a8;font-weight:500;">状态</div>
<div class="t" style="left:1223.6px;top:70.5px;font-size:11px;color:#6680a8;font-weight:500;">操作</div>
<div style="left:203.2px;top:72px;width:10.4px;height:10.4px;background:#fff;border:1px solid #c9ccd4;"></div>
<div style="left:197.6px;top:122.6px;width:1155.2px;height:0.8px;background:#eceef2;"></div>
<div class="t" style="left:221.6px;top:99.9px;font-size:10.5px;color:#333;font-weight:700;">1</div>
<div class="t" style="left:264px;top:99.9px;font-size:10.2px;color:#4a4a4a;font-weight:500;">2019-09-稽核业务本机(巡检)</div>
<div class="t" style="left:462px;top:99.9px;font-size:10.5px;color:#555;font-weight:500;">0</div>
<div class="t" style="left:605.2px;top:99.9px;font-size:10.5px;color:#555;font-weight:500;">0</div>
<div class="t" style="left:748.8px;top:99.9px;font-size:10.5px;color:#555;font-weight:500;">0</div>
<div class="t" style="left:892.4px;top:99.9px;font-size:10.5px;color:#4fc23a;font-weight:700;">100.00</div>
<div style="left:197.6px;top:155.12px;width:1155.2px;height:0.8px;background:#eceef2;"></div>
<div class="t" style="left:221.6px;top:132.42px;font-size:10.5px;color:#333;font-weight:700;">2</div>
<div class="t" style="left:264px;top:132.42px;font-size:10.2px;color:#4a4a4a;font-weight:500;">2019-09-稽核业务本机(巡检)</div>
<div class="t" style="left:462px;top:132.42px;font-size:10.5px;color:#555;font-weight:500;">0</div>
<div class="t" style="left:605.2px;top:132.42px;font-size:10.5px;color:#555;font-weight:500;">0</div>
<div class="t" style="left:748.8px;top:132.42px;font-size:10.5px;color:#555;font-weight:500;">0</div>
<div class="t" style="left:892.4px;top:132.42px;font-size:10.5px;color:#4fc23a;font-weight:700;">100.00</div>
<div style="left:197.6px;top:187.64px;width:1155.2px;height:0.8px;background:#eceef2;"></div>
<div class="t" style="left:221.6px;top:164.94px;font-size:10.5px;color:#333;font-weight:700;">3</div>
<div class="t" style="left:264px;top:164.94px;font-size:10.2px;color:#4a4a4a;font-weight:500;">2019-09-稽核业务本机(巡检)</div>
<div class="t" style="left:462px;top:164.94px;font-size:10.5px;color:#555;font-weight:500;">0</div>
<div class="t" style="left:605.2px;top:164.94px;font-size:10.5px;color:#555;font-weight:500;">0</div>
<div class="t" style="left:748.8px;top:164.94px;font-size:10.5px;color:#555;font-weight:500;">0</div>
<div class="t" style="left:892.4px;top:164.94px;font-size:10.5px;color:#4fc23a;font-weight:700;">100.00</div>
<div style="left:197.6px;top:220.16px;width:1155.2px;height:0.8px;background:#eceef2;"></div>
<div class="t" style="left:221.6px;top:197.46px;font-size:10.5px;color:#333;font-weight:700;">4</div>
<div class="t" style="left:264px;top:197.46px;font-size:10.2px;color:#4a4a4a;font-weight:500;">2019-09-稽核业务本机(巡检)</div>
<div class="t" style="left:462px;top:197.46px;font-size:10.5px;color:#555;font-weight:500;">0</div>
<div class="t" style="left:605.2px;top:197.46px;font-size:10.5px;color:#555;font-weight:500;">0</div>
<div class="t" style="left:748.8px;top:197.46px;font-size:10.5px;color:#555;font-weight:500;">0</div>
<div class="t" style="left:892.4px;top:197.46px;font-size:10.5px;color:#4fc23a;font-weight:700;">100.00</div>
<div style="left:197.6px;top:252.68px;width:1155.2px;height:0.8px;background:#eceef2;"></div>
<div class="t" style="left:221.6px;top:229.98px;font-size:10.5px;color:#333;font-weight:700;">5</div>
<div class="t" style="left:264px;top:229.98px;font-size:10.2px;color:#4a4a4a;font-weight:500;">2019-09-稽核业务本机(巡检)</div>
<div class="t" style="left:462px;top:229.98px;font-size:10.5px;color:#555;font-weight:500;">0</div>
<div class="t" style="left:605.2px;top:229.98px;font-size:10.5px;color:#555;font-weight:500;">0</div>
<div class="t" style="left:748.8px;top:229.98px;font-size:10.5px;color:#555;font-weight:500;">0</div>
<div class="t" style="left:892.4px;top:229.98px;font-size:10.5px;color:#4fc23a;font-weight:700;">100.00</div>
<div style="left:197.6px;top:285.2px;width:1155.2px;height:0.8px;background:#eceef2;"></div>
<div class="t" style="left:221.6px;top:262.5px;font-size:10.5px;color:#333;font-weight:700;">6</div>
<div class="t" style="left:264px;top:262.5px;font-size:10.2px;color:#4a4a4a;font-weight:500;">2019-09-稽核业务本机(巡检)</div>
<div class="t" style="left:462px;top:262.5px;font-size:10.5px;color:#555;font-weight:500;">0</div>
<div class="t" style="left:605.2px;top:262.5px;font-size:10.5px;color:#555;font-weight:500;">0</div>
<div class="t" style="left:748.8px;top:262.5px;font-size:10.5px;color:#555;font-weight:500;">0</div>
<div class="t" style="left:892.4px;top:262.5px;font-size:10.5px;color:#4fc23a;font-weight:700;">100.00</div>
<div style="left:197.6px;top:317.72px;width:1155.2px;height:0.8px;background:#eceef2;"></div>
<div style="left:203.2px;top:296.12px;width:10px;height:11.2px;background:#fff;border:1px solid #c9ccd4;"></div>
<div class="t" style="left:221.6px;top:295.02px;font-size:10.5px;color:#333;font-weight:700;">7</div>
<div class="t" style="left:264px;top:295.02px;font-size:10.2px;color:#4a4a4a;font-weight:500;">2019-07-稽核业务合并 - 巡检</div>
<div class="t" style="left:462px;top:295.02px;font-size:10.5px;color:#555;font-weight:500;">1</div>
<div class="t" style="left:605.2px;top:295.02px;font-size:10.5px;color:#555;font-weight:500;">0</div>
<div class="t" style="left:748.8px;top:295.02px;font-size:10.5px;color:#555;font-weight:500;">0</div>
<div class="t" style="left:892.4px;top:295.02px;font-size:10.5px;color:#4fc23a;font-weight:700;">99.81</div>
<div class="t" style="left:970.8px;top:295.02px;font-size:10.3px;color:#333;font-weight:500;">未完善</div>
<div style="left:197.6px;top:350.24px;width:1155.2px;height:0.8px;background:#eceef2;"></div>
<div style="left:203.2px;top:328.64px;width:10px;height:11.2px;background:#fff;border:1px solid #c9ccd4;"></div>
<div class="t" style="left:221.6px;top:327.54px;font-size:10.5px;color:#333;font-weight:700;">8</div>
<div class="t" style="left:264px;top:327.54px;font-size:10.2px;color:#4a4a4a;font-weight:500;">2019-07-稽核业务合并 - 巡检</div>
<div class="t" style="left:462px;top:327.54px;font-size:10.5px;color:#555;font-weight:500;">1</div>
<div class="t" style="left:605.2px;top:327.54px;font-size:10.5px;color:#555;font-weight:500;">0</div>
<div class="t" style="left:748.8px;top:327.54px;font-size:10.5px;color:#555;font-weight:500;">0</div>
<div class="t" style="left:892.4px;top:327.54px;font-size:10.5px;color:#4fc23a;font-weight:700;">99.91</div>
<div class="t" style="left:970.8px;top:327.54px;font-size:10.3px;color:#333;font-weight:500;">未完善</div>
<div style="left:197.6px;top:350.56px;width:1155.2px;height:32.4px;background:#e8f6fc;"></div>
<div style="left:197.6px;top:382.76px;width:1155.2px;height:0.8px;background:#eceef2;"></div>
<div style="left:203.2px;top:361.16px;width:10px;height:11.2px;background:#fff;border:1px solid #c9ccd4;"></div>
<div class="t" style="left:221.6px;top:360.06px;font-size:10.5px;color:#333;font-weight:700;">9</div>
<div class="t" style="left:264px;top:360.06px;font-size:10.2px;color:#4a4a4a;font-weight:500;">2019-07-稽核业务合并 - 巡检</div>
<div class="t" style="left:462px;top:360.06px;font-size:10.5px;color:#555;font-weight:500;">1</div>
<div class="t" style="left:605.2px;top:360.06px;font-size:10.5px;color:#555;font-weight:500;">0</div>
<div class="t" style="left:748.8px;top:360.06px;font-size:10.5px;color:#555;font-weight:500;">0</div>
<div class="t" style="left:892.4px;top:360.06px;font-size:10.5px;color:#4fc23a;font-weight:700;">99.91</div>
<div class="t" style="left:970.8px;top:360.06px;font-size:10.3px;color:#333;font-weight:500;">整改指标稽核机构(123)未按照稽核规范入库平衡</div>
<div class="t" style="left:1223.6px;top:360.06px;font-size:10.5px;color:#1f9fb6;font-weight:700;">整改</div>
<div style="left:197.6px;top:415.28px;width:1155.2px;height:0.8px;background:#eceef2;"></div>
<div style="left:203.2px;top:393.68px;width:10px;height:11.2px;background:#fff;border:1px solid #c9ccd4;"></div>
<div class="t" style="left:219.2px;top:392.58px;font-size:10.5px;color:#333;font-weight:700;">10</div>
<div class="t" style="left:264px;top:392.58px;font-size:10.2px;color:#4a4a4a;font-weight:500;">2019-07-稽核业务合并 - 巡检</div>
<div class="t" style="left:462px;top:392.58px;font-size:10.5px;color:#555;font-weight:500;">1</div>
<div class="t" style="left:605.2px;top:392.58px;font-size:10.5px;color:#555;font-weight:500;">0</div>
<div class="t" style="left:748.8px;top:392.58px;font-size:10.5px;color:#555;font-weight:500;">0</div>
<div class="t" style="left:892.4px;top:392.58px;font-size:10.5px;color:#4fc23a;font-weight:700;">99.91</div>
<div class="t" style="left:970.8px;top:392.58px;font-size:10.3px;color:#333;font-weight:500;">未完善</div>
<div style="left:197.6px;top:447.8px;width:1155.2px;height:0.8px;background:#eceef2;"></div>
<div style="left:203.2px;top:426.2px;width:10px;height:11.2px;background:#fff;border:1px solid #c9ccd4;"></div>
<div class="t" style="left:219.2px;top:425.1px;font-size:10.5px;color:#333;font-weight:700;">11</div>
<div class="t" style="left:264px;top:425.1px;font-size:10.2px;color:#4a4a4a;font-weight:500;">2019-07-稽核业务合并 - 巡检</div>
<div class="t" style="left:462px;top:425.1px;font-size:10.5px;color:#555;font-weight:500;">1</div>
<div class="t" style="left:605.2px;top:425.1px;font-size:10.5px;color:#555;font-weight:500;">0</div>
<div class="t" style="left:748.8px;top:425.1px;font-size:10.5px;color:#555;font-weight:500;">0</div>
<div class="t" style="left:892.4px;top:425.1px;font-size:10.5px;color:#4fc23a;font-weight:700;">99.91</div>
<div class="t" style="left:970.8px;top:425.1px;font-size:10.3px;color:#333;font-weight:500;">未完善</div>
<div style="left:197.6px;top:480.32px;width:1155.2px;height:0.8px;background:#eceef2;"></div>
<div style="left:203.2px;top:458.72px;width:10px;height:11.2px;background:#fff;border:1px solid #c9ccd4;"></div>
<div class="t" style="left:219.2px;top:457.62px;font-size:10.5px;color:#333;font-weight:700;">12</div>
<div class="t" style="left:264px;top:457.62px;font-size:10.2px;color:#4a4a4a;font-weight:500;">2019-07-稽核业务合并 - 巡检</div>
<div class="t" style="left:462px;top:457.62px;font-size:10.5px;color:#555;font-weight:500;">1</div>
<div class="t" style="left:605.2px;top:457.62px;font-size:10.5px;color:#555;font-weight:500;">0</div>
<div class="t" style="left:748.8px;top:457.62px;font-size:10.5px;color:#555;font-weight:500;">0</div>
<div class="t" style="left:892.4px;top:457.62px;font-size:10.5px;color:#4fc23a;font-weight:700;">99.91</div>
<div class="t" style="left:970.8px;top:457.62px;font-size:10.3px;color:#333;font-weight:500;">未完善</div>
<div style="left:197.6px;top:512.84px;width:1155.2px;height:0.8px;background:#eceef2;"></div>
<div class="t" style="left:219.2px;top:490.14px;font-size:10.5px;color:#333;font-weight:700;">13</div>
<div class="t" style="left:264px;top:490.14px;font-size:10.2px;color:#4a4a4a;font-weight:500;">2019-06-稽核业务合并(二批)</div>
<div class="t" style="left:462px;top:490.14px;font-size:10.5px;color:#555;font-weight:500;">0</div>
<div class="t" style="left:605.2px;top:490.14px;font-size:10.5px;color:#555;font-weight:500;">0</div>
<div class="t" style="left:748.8px;top:490.14px;font-size:10.5px;color:#555;font-weight:500;">0</div>
<div class="t" style="left:892.4px;top:490.14px;font-size:10.5px;color:#4fc23a;font-weight:700;">100.00</div>
<div style="left:197.6px;top:545.36px;width:1155.2px;height:0.8px;background:#eceef2;"></div>
<div class="t" style="left:219.2px;top:522.66px;font-size:10.5px;color:#333;font-weight:700;">14</div>
<div class="t" style="left:264px;top:522.66px;font-size:10.2px;color:#4a4a4a;font-weight:500;">2019-06-稽核业务合并(二批)</div>
<div class="t" style="left:462px;top:522.66px;font-size:10.5px;color:#555;font-weight:500;">0</div>
<div class="t" style="left:605.2px;top:522.66px;font-size:10.5px;color:#555;font-weight:500;">0</div>
<div class="t" style="left:748.8px;top:522.66px;font-size:10.5px;color:#555;font-weight:500;">0</div>
<div class="t" style="left:892.4px;top:522.66px;font-size:10.5px;color:#4fc23a;font-weight:700;">100.00</div>
<div style="left:197.6px;top:577.88px;width:1155.2px;height:0.8px;background:#eceef2;"></div>
<div class="t" style="left:219.2px;top:555.18px;font-size:10.5px;color:#333;font-weight:700;">15</div>
<div class="t" style="left:264px;top:555.18px;font-size:10.2px;color:#4a4a4a;font-weight:500;">2019-06-稽核业务合并(二批)</div>
<div class="t" style="left:462px;top:555.18px;font-size:10.5px;color:#555;font-weight:500;">0</div>
<div class="t" style="left:605.2px;top:555.18px;font-size:10.5px;color:#555;font-weight:500;">0</div>
<div class="t" style="left:748.8px;top:555.18px;font-size:10.5px;color:#555;font-weight:500;">0</div>
<div class="t" style="left:892.4px;top:555.18px;font-size:10.5px;color:#4fc23a;font-weight:700;">100.00</div>
<div style="left:1353.6px;top:92.8px;width:12.8px;height:494.4px;background:#f3f3f4;"></div>
<div style="left:1354.4px;top:116.8px;width:11.2px;height:70px;background:#a9a9ab;"></div>
<div class="t" style="left:1160px;width:400px;text-align:center;top:97.3px;font-size:8px;color:#888;font-weight:400;">▴</div>
<div class="t" style="left:647.2px;top:600.5px;font-size:10px;color:#bbb;font-weight:400;">«  ‹</div>
<div class="t" style="left:700.8px;top:600.5px;font-size:10.5px;color:#444;font-weight:700;">第</div>
<div style="left:713.6px;top:599.2px;width:32px;height:16px;background:#fff;border:1px solid #d0d3da;"></div>
<div class="t" style="left:718.4px;top:600.5px;font-size:10.5px;color:#444;font-weight:400;">1</div>
<div class="t" style="left:748px;top:600.5px;font-size:10.5px;color:#444;font-weight:500;">页/3页</div>
<div class="t" style="left:782px;top:600.5px;font-size:10px;color:#1f9fb6;font-weight:700;">下一页</div>
<div class="t" style="left:814px;top:600.5px;font-size:10px;color:#1f9fb6;font-weight:700;">末页</div>
<div class="t" style="left:836.4px;top:600.5px;font-size:10.5px;color:#333;font-weight:700;">每页15条,共41条</div>
<div class="t" style="left:1160px;width:400px;text-align:center;top:570.1px;font-size:8px;color:#888;font-weight:400;">▾</div>
</div></div>
<div class="shot" style="left:710px;top:292.1px;width:336.1px;height:154.9px;background:#f1f3f8"><div class="in" style="width:1344.4px;height:619.6px">
<div style="left:0.4px;top:0px;width:155.4px;height:619.6px;background:#3c4967;"></div>
<div style="left:145px;top:0px;width:10.8px;height:619.6px;background:#475679;"></div>
<div style="left:0.4px;top:590.8px;width:155.4px;height:28.8px;background:#35415d;"></div>
<div class="t" style="left:-184.4px;width:400px;text-align:center;top:0.5px;font-size:9px;color:#a9b4cc;font-weight:400;">-</div>
<svg style="left:25.5px;top:1px" width="13" height="14" viewBox="0 0 12 13"><path d="M1.500 1.500h9v6.500l-4.500 3.500l-4.500-3.500z" fill="none" stroke="#fff" stroke-width="2.5"/><path d="M4 5h4" stroke="#fff" stroke-width="2"/></svg>
<div class="t" style="left:46px;top:1.3px;font-size:10.2px;color:#fff;font-weight:700;">稽核规则模板</div>
<svg style="left:41.5px;top:28.32px" width="13" height="14" viewBox="0 0 12 13"><path d="M1.500 1.500h9v6.500l-4.500 3.500l-4.500-3.500z" fill="none" stroke="#fff" stroke-width="2.5"/><path d="M4 5h4" stroke="#fff" stroke-width="2"/></svg>
<div class="t" style="left:63.2px;top:28.62px;font-size:8.6px;color:#fff;font-weight:700;">上级库</div>
<svg style="left:41.5px;top:55.64px" width="13" height="14" viewBox="0 0 12 13"><path d="M1.500 1.500h9v6.500l-4.500 3.500l-4.500-3.500z" fill="none" stroke="#fff" stroke-width="2.5"/><path d="M4 5h4" stroke="#fff" stroke-width="2"/></svg>
<div class="t" style="left:63.2px;top:55.94px;font-size:8.6px;color:#fff;font-weight:700;">规则库列表</div>
<svg style="left:41.5px;top:82.96px" width="13" height="14" viewBox="0 0 12 13"><path d="M1.500 1.500h9v6.500l-4.500 3.500l-4.500-3.500z" fill="none" stroke="#fff" stroke-width="2.5"/><path d="M4 5h4" stroke="#fff" stroke-width="2"/></svg>
<div class="t" style="left:63.2px;top:83.26px;font-size:8.6px;color:#fff;font-weight:700;">数据库</div>
<svg style="left:41.5px;top:110.28px" width="13" height="14" viewBox="0 0 12 13"><path d="M1.500 1.500h9v6.500l-4.500 3.500l-4.500-3.500z" fill="none" stroke="#fff" stroke-width="2.5"/><path d="M4 5h4" stroke="#fff" stroke-width="2"/></svg>
<div class="t" style="left:63.2px;top:110.58px;font-size:8.6px;color:#fff;font-weight:700;">规则</div>
<div class="t" style="left:-168px;width:400px;text-align:center;top:137.1px;font-size:9px;color:#a9b4cc;font-weight:400;">-</div>
<svg style="left:41.5px;top:137.6px" width="13" height="14" viewBox="0 0 12 13"><path d="M1.500 1.500h9v6.500l-4.500 3.500l-4.500-3.500z" fill="none" stroke="#fff" stroke-width="2.5"/><path d="M4 5h4" stroke="#fff" stroke-width="2"/></svg>
<div class="t" style="left:63.2px;top:137.9px;font-size:8.9px;color:#fff;font-weight:700;">检查方案</div>
<div class="t" style="left:-152px;width:400px;text-align:center;top:164.42px;font-size:9px;color:#a9b4cc;font-weight:400;">›</div>
<svg style="left:57.9px;top:164.92px" width="13" height="14" viewBox="0 0 12 13"><path d="M1.500 1.500h9v6.500l-4.500 3.500l-4.500-3.500z" fill="none" stroke="#fff" stroke-width="2.5"/><path d="M4 5h4" stroke="#fff" stroke-width="2"/></svg>
<div class="t" style="left:80.4px;top:165.22px;font-size:10.32px;color:#fff;font-weight:700;">江海检查案</div>
<div class="t" style="left:-152px;width:400px;text-align:center;top:191.74px;font-size:9px;color:#a9b4cc;font-weight:400;">-</div>
<svg style="left:57.9px;top:192.24px" width="13" height="14" viewBox="0 0 12 13"><path d="M1.500 1.500h9v6.500l-4.500 3.500l-4.500-3.500z" fill="none" stroke="#fff" stroke-width="2.5"/><path d="M4 5h4" stroke="#fff" stroke-width="2"/></svg>
<div class="t" style="left:80.4px;top:192.54px;font-size:10.32px;color:#fff;font-weight:700;">成都检查案</div>
<svg style="left:74.7px;top:219.56px" width="13" height="14" viewBox="0 0 12 13"><path d="M1.500 1.500h9v6.500l-4.500 3.500l-4.500-3.500z" fill="none" stroke="#fff" stroke-width="2.5"/><path d="M4 5h4" stroke="#fff" stroke-width="2"/></svg>
<div class="t" style="left:95.2px;top:219.86px;font-size:8.9px;color:#fff;font-weight:700;">质量监控</div>
<svg style="left:74.7px;top:246.88px" width="13" height="14" viewBox="0 0 12 13"><path d="M1.500 1.500h9v6.500l-4.500 3.500l-4.500-3.500z" fill="none" stroke="#fff" stroke-width="2.5"/><path d="M4 5h4" stroke="#fff" stroke-width="2"/></svg>
<div class="t" style="left:95.2px;top:247.18px;font-size:8.9px;color:#fff;font-weight:700;">检查管理</div>
<svg style="left:74.7px;top:274.2px" width="13" height="14" viewBox="0 0 12 13"><path d="M1.500 1.500h9v6.500l-4.500 3.500l-4.500-3.500z" fill="none" stroke="#fff" stroke-width="2.5"/><path d="M4 5h4" stroke="#fff" stroke-width="2"/></svg>
<div class="t" style="left:95.2px;top:274.5px;font-size:8.9px;color:#fff;font-weight:700;">数据整改</div>
<svg style="left:74.7px;top:301.52px" width="13" height="14" viewBox="0 0 12 13"><path d="M1.500 1.500h9v6.500l-4.500 3.500l-4.500-3.500z" fill="none" stroke="#fff" stroke-width="2.5"/><path d="M4 5h4" stroke="#fff" stroke-width="2"/></svg>
<div class="t" style="left:95.2px;top:301.82px;font-size:8.67px;color:#fff;font-weight:700;">评分卡</div>
<svg style="left:74.7px;top:328.84px" width="13" height="14" viewBox="0 0 12 13"><path d="M1.500 1.500h9v6.500l-4.500 3.500l-4.500-3.500z" fill="none" stroke="#fff" stroke-width="2.5"/><path d="M4 5h4" stroke="#fff" stroke-width="2"/></svg>
<div class="t" style="left:95.2px;top:329.14px;font-size:8.8px;color:#fff;font-weight:700;">规范化清单</div>
<div class="t" style="left:-134.8px;width:400px;text-align:center;top:355.66px;font-size:9px;color:#a9b4cc;font-weight:400;">-</div>
<svg style="left:74.7px;top:356.16px" width="13" height="14" viewBox="0 0 12 13"><path d="M1.500 1.500h9v6.500l-4.500 3.500l-4.500-3.500z" fill="none" stroke="#fff" stroke-width="2.5"/><path d="M4 5h4" stroke="#fff" stroke-width="2"/></svg>
<div class="t" style="left:95.2px;top:356.46px;font-size:8.7px;color:#fff;font-weight:700;">质量分析</div>
<div style="left:0.4px;top:376.62px;width:144.8px;height:27.72px;background:#12c0e2;"></div>
<svg style="left:90.7px;top:383.48px" width="13" height="14" viewBox="0 0 12 13"><path d="M1.500 1.500h9v6.500l-4.500 3.500l-4.500-3.500z" fill="none" stroke="#fff" stroke-width="2.5"/><path d="M4 5h4" stroke="#fff" stroke-width="2"/></svg>
<div class="t" style="left:112.4px;top:383.78px;font-size:8.6px;color:#fff;font-weight:700;">质量分析</div>
<div class="t" style="left:-134.4px;width:400px;text-align:center;top:410.3px;font-size:9px;color:#a9b4cc;font-weight:400;">-</div>
<svg style="left:73.9px;top:410.8px" width="13" height="14" viewBox="0 0 12 13"><path d="M1.500 1.500h9v6.500l-4.500 3.500l-4.500-3.500z" fill="none" stroke="#fff" stroke-width="2.5"/><path d="M4 5h4" stroke="#fff" stroke-width="2"/></svg>
<div class="t" style="left:96px;top:411.1px;font-size:8.8px;color:#fff;font-weight:700;">规范管理</div>
<svg style="left:91.1px;top:438.12px" width="13" height="14" viewBox="0 0 12 13"><path d="M1.500 1.500h9v6.500l-4.500 3.500l-4.500-3.500z" fill="none" stroke="#fff" stroke-width="2.5"/><path d="M4 5h4" stroke="#fff" stroke-width="2"/></svg>
<div class="t" style="left:112.4px;top:438.42px;font-size:8.6px;color:#fff;font-weight:700;">监控内容</div>
<svg style="left:91.1px;top:465.44px" width="13" height="14" viewBox="0 0 12 13"><path d="M1.500 1.500h9v6.500l-4.500 3.500l-4.500-3.500z" fill="none" stroke="#fff" stroke-width="2.5"/><path d="M4 5h4" stroke="#fff" stroke-width="2"/></svg>
<div class="t" style="left:112.4px;top:465.74px;font-size:8.6px;color:#fff;font-weight:700;">数据内容</div>
<div class="t" style="left:-151.6px;width:400px;text-align:center;top:492.26px;font-size:9px;color:#a9b4cc;font-weight:400;">›</div>
<svg style="left:58.3px;top:492.76px" width="13" height="14" viewBox="0 0 12 13"><path d="M1.500 1.500h9v6.500l-4.500 3.500l-4.500-3.500z" fill="none" stroke="#fff" stroke-width="2.5"/><path d="M4 5h4" stroke="#fff" stroke-width="2"/></svg>
<div class="t" style="left:80.4px;top:493.06px;font-size:10.56px;color:#fff;font-weight:700;">卫计检查案</div>
<div class="t" style="left:-185.2px;width:400px;text-align:center;top:519.58px;font-size:9px;color:#a9b4cc;font-weight:400;">›</div>
<svg style="left:25.5px;top:520.08px" width="13" height="14" viewBox="0 0 12 13"><path d="M1.500 1.500h9v6.500l-4.500 3.500l-4.500-3.500z" fill="none" stroke="#fff" stroke-width="2.5"/><path d="M4 5h4" stroke="#fff" stroke-width="2"/></svg>
<div class="t" style="left:46.8px;top:520.38px;font-size:10px;color:#fff;font-weight:700;">金融系统模板</div>
<svg style="left:18.3px;top:547.4px" width="13" height="14" viewBox="0 0 12 13"><path d="M1.500 1.500h9v6.500l-4.500 3.500l-4.500-3.500z" fill="none" stroke="#fff" stroke-width="2.5"/><path d="M4 5h4" stroke="#fff" stroke-width="2"/></svg>
<div class="t" style="left:38.4px;top:547.7px;font-size:10.2px;color:#fff;font-weight:700;">大区稽核管理</div>
<div style="left:19.2px;top:575.2px;width:68.4px;height:13.2px;background:#4c608c;"></div>
<div class="t" style="left:-185.6px;width:400px;text-align:center;top:598.1px;font-size:12px;color:#7f8cab;font-weight:400;">«</div>
<div class="t" style="left:-60.4px;width:400px;text-align:center;top:598.1px;font-size:11px;color:#7f8cab;font-weight:400;">⟳</div>
<div class="t" style="left:174.8px;top:2.5px;font-size:10.3px;color:#7f97c4;font-weight:400;">系统共享 / 质量稽核管理 / 稽核规则模板 / 检查方案 / 成都检查方案 / 质量分析 / 质量分析</div>
<div class="t" style="left:180.8px;top:31.7px;font-size:11px;color:#333;font-weight:700;">数据期</div>
<div style="left:213.6px;top:29.2px;width:112.8px;height:18.4px;background:#fff;border:1.5px solid #c3c6ce;border-radius:2px;"></div>
<div class="t" style="left:218.4px;top:31.7px;font-size:10.5px;color:#333;font-weight:500;">2019年09月</div>
<div class="t" style="left:314.4px;top:31.7px;font-size:10px;color:#555;font-weight:400;">▾</div>
<div class="t" style="left:337.2px;top:31.7px;font-size:11px;color:#333;font-weight:700;">数据批次</div>
<div style="left:376px;top:29.2px;width:106.4px;height:18.4px;background:#fff;border:1.5px solid #c3c6ce;border-radius:2px;"></div>
<div class="t" style="left:380.8px;top:31.7px;font-size:10.5px;color:#333;font-weight:500;">成都分组</div>
<div class="t" style="left:470.4px;top:31.7px;font-size:10px;color:#555;font-weight:400;">▾</div>
<div class="t" style="left:493.2px;top:31.7px;font-size:11px;color:#333;font-weight:700;">评分卡</div>
<div style="left:520px;top:29.2px;width:117.6px;height:18.4px;background:#fff;border:1.5px solid #c3c6ce;border-radius:2px;"></div>
<div class="t" style="left:524.8px;top:31.7px;font-size:10.5px;color:#333;font-weight:500;">默认</div>
<div class="t" style="left:625.6px;top:31.7px;font-size:10px;color:#555;font-weight:400;">▾</div>
<div style="left:648.4px;top:28px;width:75.6px;height:20.4px;background:#1e8fff;border-radius:2px;"></div>
<div class="t" style="left:481.6px;width:400px;text-align:center;top:31.7px;font-size:10.5px;color:#fff;font-weight:700;">▶ 计算</div>
<div class="t" style="left:713.6px;top:31.7px;font-size:9px;color:#fff;font-weight:400;">▾</div>
<div style="left:731.2px;top:28px;width:52.4px;height:20.4px;background:#1e8fff;border-radius:2px;"></div>
<div class="t" style="left:557.2px;width:400px;text-align:center;top:31.7px;font-size:10.5px;color:#fff;font-weight:700;">分享</div>
<div style="left:180.8px;top:62.4px;width:567.2px;height:260.4px;background:#fff;border-radius:3px;"></div>
<div style="left:756px;top:62.4px;width:565.2px;height:260.4px;background:#fff;border-radius:3px;"></div>
<div style="left:180.8px;top:330.4px;width:567.2px;height:263.2px;background:#fff;border-radius:3px;"></div>
<div style="left:756px;top:332.4px;width:565.2px;height:261.2px;background:#fff;border-radius:3px;"></div>
<div class="t" style="left:190px;top:70.5px;font-size:12.4px;color:#222;font-weight:700;">错误次数和错误比例趋势图</div>
<div class="t" style="left:763.2px;top:70.5px;font-size:12.4px;color:#222;font-weight:700;">各规则错误次数占比情况</div>
<div class="t" style="left:190px;top:339.7px;font-size:12.4px;color:#222;font-weight:700;">各表错误次数详细情况分析</div>
<div class="t" style="left:763.2px;top:339.7px;font-size:12.4px;color:#222;font-weight:700;">各检查表错误次数占比情况</div>
<div style="left:228.4px;top:131.2px;width:466.8px;height:0.8px;background:#e1e3e8;"></div>
<div style="left:228.4px;top:159.52px;width:466.8px;height:0.8px;background:#e1e3e8;"></div>
<div style="left:228.4px;top:187.84px;width:466.8px;height:0.8px;background:#e1e3e8;"></div>
<div style="left:228.4px;top:216.16px;width:466.8px;height:0.8px;background:#e1e3e8;"></div>
<div style="left:228.4px;top:244.48px;width:466.8px;height:0.8px;background:#e1e3e8;"></div>
<div style="left:228.4px;top:272.8px;width:466.8px;height:0.8px;background:#8a8d94;"></div>
<div style="left:228px;top:131.6px;width:1px;height:142px;background:#8a8d94;"></div>
<div style="left:694.8px;top:131.6px;width:1px;height:142px;background:#8a8d94;"></div>
<div class="t" style="left:-175.2px;width:400px;text-align:right;top:124.9px;font-size:8.5px;color:#666;font-weight:400;">12000</div>
<div class="t" style="left:-175.2px;width:400px;text-align:right;top:148.5px;font-size:8.5px;color:#666;font-weight:400;">10000</div>
<div class="t" style="left:-175.2px;width:400px;text-align:right;top:172.1px;font-size:8.5px;color:#666;font-weight:400;">8000</div>
<div class="t" style="left:-175.2px;width:400px;text-align:right;top:195.7px;font-size:8.5px;color:#666;font-weight:400;">6000</div>
<div class="t" style="left:-175.2px;width:400px;text-align:right;top:219.3px;font-size:8.5px;color:#666;font-weight:400;">4000</div>
<div class="t" style="left:-175.2px;width:400px;text-align:right;top:242.9px;font-size:8.5px;color:#666;font-weight:400;">2000</div>
<div class="t" style="left:-175.2px;width:400px;text-align:right;top:266.5px;font-size:8.5px;color:#666;font-weight:400;">0</div>
<div class="t" style="left:700px;top:124.9px;font-size:8.5px;color:#666;font-weight:400;">100</div>
<div class="t" style="left:700px;top:153.22px;font-size:8.5px;color:#666;font-weight:400;">80</div>
<div class="t" style="left:700px;top:181.54px;font-size:8.5px;color:#666;font-weight:400;">60</div>
<div class="t" style="left:700px;top:209.86px;font-size:8.5px;color:#666;font-weight:400;">40</div>
<div class="t" style="left:700px;top:238.18px;font-size:8.5px;color:#666;font-weight:400;">20</div>
<div class="t" style="left:700px;top:266.5px;font-size:8.5px;color:#666;font-weight:400;">0</div>
<div class="t" style="left:27.2px;width:400px;text-align:center;top:114.9px;font-size:8.5px;color:#444;font-weight:500;">个数</div>
<div class="t" style="left:494.4px;width:400px;text-align:center;top:114.9px;font-size:8.5px;color:#444;font-weight:500;">比例</div>
<div style="left:386px;top:119.2px;width:14.4px;height:5.6px;background:#3cb034;border-radius:2px;"></div>
<div class="t" style="left:403.2px;top:115.3px;font-size:9.2px;color:#333;font-weight:500;">错误次数</div>
<div style="left:447.2px;top:119.2px;width:14.4px;height:5.6px;background:#1ec6ff;border-radius:2px;"></div>
<div class="t" style="left:464.4px;top:115.3px;font-size:9.2px;color:#333;font-weight:500;">检查次数</div>
<div style="left:510.4px;top:120.8px;width:9.6px;height:2.4px;background:#f9b52b;"></div>
<div class="t" style="left:524.8px;top:115.3px;font-size:9.2px;color:#333;font-weight:500;">错误率</div>
<div style="left:476.8px;top:140.8px;width:99.2px;height:132.8px;background:#1ec6ff;"></div>
<div style="left:344px;top:268.8px;width:101.6px;height:5.2px;background:#4caf50;"></div>
<div style="left:457.6px;top:138.8px;width:4.4px;height:4.4px;background:#f9b52b;border-radius:50%;"></div>
<div class="t" style="left:262px;width:400px;text-align:center;top:279.7px;font-size:9.2px;color:#333;font-weight:500;">2019年09月</div>
<svg style="left:950px;top:124.4px" width="178.4" height="178.4" viewBox="-89.2 -89.2 178.4 178.4" fill="none" stroke-width="6.8"><path d="M0 -83.2A83.2 83.2 0 1 1 -60.85 -56.74" stroke="#2f9bff"/><path d="M-60.85 -56.74A83.2 83.2 0 0 1 -27.09 -78.67" stroke="#f7a71c"/><path d="M-27.09 -78.67A83.2 83.2 0 0 1 0 -83.2" stroke="#f4606c"/></svg>
<div class="t" style="left:838.8px;width:400px;text-align:center;top:196.9px;font-size:10.5px;color:#333;font-weight:500;">一般</div>
<div class="t" style="left:838.8px;width:400px;text-align:center;top:222.5px;font-size:15.5px;color:#3a3a3a;font-weight:400;">86.92%</div>
<div class="t" style="left:894.4px;width:400px;text-align:right;top:181.3px;font-size:9px;color:#222;font-weight:700;">一般</div>
<div style="left:1300px;top:185px;width:13.6px;height:6px;background:#2f9bff;border-radius:3px;"></div>
<div class="t" style="left:894.4px;width:400px;text-align:right;top:199.7px;font-size:9px;color:#222;font-weight:700;">提醒</div>
<div style="left:1300px;top:203.4px;width:13.6px;height:6px;background:#f7a71c;border-radius:3px;"></div>
<div class="t" style="left:894.4px;width:400px;text-align:right;top:218.1px;font-size:9px;color:#222;font-weight:700;">严重</div>
<div style="left:1300px;top:221.8px;width:13.6px;height:6px;background:#f4606c;border-radius:3px;"></div>
<div class="t" style="left:1111.2px;width:400px;text-align:center;top:112.1px;font-size:12px;color:#4a9cf0;font-weight:400;">☑</div>
<svg style="left:950px;top:392px" width="178.4" height="178.4" viewBox="-89.2 -89.2 178.4 178.4" fill="none" stroke-width="6.8"><path d="M0 -83.2A83.2 83.2 0 0 1 39.06 73.46" stroke="#1fb41f"/><path d="M39.06 73.46A83.2 83.2 0 0 1 -74.78 -36.47" stroke="#ffc219"/><path d="M-74.78 -36.47A83.2 83.2 0 0 1 -37.77 -74.13" stroke="#ff7a14"/><path d="M-37.77 -74.13A83.2 83.2 0 0 1 -20.13 -80.73" stroke="#de62f2"/><path d="M-20.13 -80.73A83.2 83.2 0 0 1 0 -83.2" stroke="#9a58f5"/></svg>
<div class="t" style="left:838.8px;width:400px;text-align:center;top:466.5px;font-size:9.4px;color:#555;font-weight:400;">TORDERS_ES48024</div>
<div class="t" style="left:838.8px;width:400px;text-align:center;top:491.3px;font-size:15.5px;color:#3a3a3a;font-weight:400;">42.19%</div>
<div class="t" style="left:896px;width:400px;text-align:right;top:426.5px;font-size:8.3px;color:#444;font-weight:500;">TORDERS_ES48024</div>
<div style="left:1301.6px;top:430.2px;width:12.8px;height:6px;background:#1fb41f;border-radius:3px;"></div>
<div class="t" style="left:896px;width:400px;text-align:right;top:444.82px;font-size:8.3px;color:#444;font-weight:500;">TORDERS_ES48030</div>
<div style="left:1301.6px;top:448.52px;width:12.8px;height:6px;background:#ffc219;border-radius:3px;"></div>
<div class="t" style="left:896px;width:400px;text-align:right;top:463.14px;font-size:8.3px;color:#444;font-weight:500;">TORDERS_ES48019</div>
<div style="left:1301.6px;top:466.84px;width:12.8px;height:6px;background:#ff7a14;border-radius:3px;"></div>
<div class="t" style="left:896px;width:400px;text-align:right;top:481.46px;font-size:8.3px;color:#444;font-weight:500;">TORDERS_ES48022</div>
<div style="left:1301.6px;top:485.16px;width:12.8px;height:6px;background:#de62f2;border-radius:3px;"></div>
<div class="t" style="left:896px;width:400px;text-align:right;top:499.78px;font-size:8.3px;color:#444;font-weight:500;">TORDERS_ES48028</div>
<div style="left:1301.6px;top:503.48px;width:12.8px;height:6px;background:#9a58f5;border-radius:3px;"></div>
<div style="left:183.2px;top:389.6px;width:551.6px;height:56.4px;background:#e9f1fa;"></div>
<div style="left:306.72px;top:389.6px;width:0.96px;height:204px;background:#d9dee6;"></div>
<div style="left:392.72px;top:389.6px;width:0.96px;height:204px;background:#d9dee6;"></div>
<div style="left:455.52px;top:389.6px;width:0.96px;height:204px;background:#d9dee6;"></div>
<div style="left:523.92px;top:416.8px;width:0.96px;height:176.8px;background:#d9dee6;"></div>
<div style="left:593.12px;top:416.8px;width:0.96px;height:176.8px;background:#d9dee6;"></div>
<div style="left:664.32px;top:416.8px;width:0.96px;height:176.8px;background:#d9dee6;"></div>
<div style="left:456px;top:416.4px;width:278.8px;height:1px;background:#d9dee6;"></div>
<div style="left:183.2px;top:389.2px;width:551.6px;height:1px;background:#d9dee6;"></div>
<div class="t" style="left:45.2px;width:400px;text-align:center;top:411.3px;font-size:9.6px;color:#33415c;font-weight:700;">主题库和表</div>
<div class="t" style="left:150.2px;width:400px;text-align:center;top:411.3px;font-size:9.6px;color:#33415c;font-weight:700;">物理表名</div>
<div class="t" style="left:224.6px;width:400px;text-align:center;top:411.3px;font-size:9.6px;color:#33415c;font-weight:700;">错误次数</div>
<div class="t" style="left:395.4px;width:400px;text-align:center;top:396.5px;font-size:9.6px;color:#33415c;font-weight:700;">错误分布</div>
<div class="t" style="left:290.2px;width:400px;text-align:center;top:424.5px;font-size:9.4px;color:#33415c;font-weight:700;">空值检查</div>
<div class="t" style="left:359px;width:400px;text-align:center;top:424.5px;font-size:9.4px;color:#33415c;font-weight:700;">逻辑检查</div>
<div class="t" style="left:429.2px;width:400px;text-align:center;top:424.5px;font-size:9.4px;color:#33415c;font-weight:700;">重复数据检查</div>
<div class="t" style="left:499.8px;width:400px;text-align:center;top:424.5px;font-size:9.4px;color:#33415c;font-weight:700;">规范检查</div>
<div style="left:183.2px;top:443.4px;width:551.6px;height:1px;background:#d9dee6;"></div>
<div class="t" style="left:45.2px;width:400px;text-align:center;top:449.3px;font-size:8.8px;color:#333;font-weight:700;">卢湾数据 (ES4-L-I 委托)</div>
<div class="t" style="left:150.2px;width:400px;text-align:center;top:449.3px;font-size:8.6px;color:#555;font-weight:400;">TORDERS_ES48030</div>
<div class="t" style="left:224.6px;width:400px;text-align:center;top:449.3px;font-size:9px;color:#444;font-weight:500;">3</div>
<div class="t" style="left:290.2px;width:400px;text-align:center;top:449.3px;font-size:9px;color:#444;font-weight:500;">0</div>
<div class="t" style="left:359px;width:400px;text-align:center;top:449.3px;font-size:9px;color:#444;font-weight:500;">2</div>
<div class="t" style="left:429.2px;width:400px;text-align:center;top:449.3px;font-size:9px;color:#444;font-weight:500;">0</div>
<div class="t" style="left:499.8px;width:400px;text-align:center;top:449.3px;font-size:9px;color:#444;font-weight:500;">1</div>
<div style="left:183.2px;top:467.8px;width:551.6px;height:1px;background:#d9dee6;"></div>
<div class="t" style="left:45.2px;width:400px;text-align:center;top:473.7px;font-size:8.8px;color:#333;font-weight:700;">卢湾委托- (ES4-L-Z 清算)</div>
<div class="t" style="left:150.2px;width:400px;text-align:center;top:473.7px;font-size:8.6px;color:#555;font-weight:400;">TORDERS_ES48010</div>
<div class="t" style="left:224.6px;width:400px;text-align:center;top:473.7px;font-size:9px;color:#444;font-weight:500;">26</div>
<div class="t" style="left:290.2px;width:400px;text-align:center;top:473.7px;font-size:9px;color:#444;font-weight:500;">26</div>
<div class="t" style="left:359px;width:400px;text-align:center;top:473.7px;font-size:9px;color:#444;font-weight:500;">0</div>
<div class="t" style="left:429.2px;width:400px;text-align:center;top:473.7px;font-size:9px;color:#444;font-weight:500;">0</div>
<div class="t" style="left:499.8px;width:400px;text-align:center;top:473.7px;font-size:9px;color:#444;font-weight:500;">0</div>
<div style="left:183.2px;top:492.2px;width:551.6px;height:1px;background:#d9dee6;"></div>
<div class="t" style="left:45.2px;width:400px;text-align:center;top:498.1px;font-size:8.8px;color:#333;font-weight:700;">卢湾兑现 / 清算明细</div>
<div class="t" style="left:150.2px;width:400px;text-align:center;top:498.1px;font-size:8.6px;color:#555;font-weight:400;">TORDERS_ES48024</div>
<div class="t" style="left:224.6px;width:400px;text-align:center;top:498.1px;font-size:9px;color:#444;font-weight:500;">100</div>
<div class="t" style="left:290.2px;width:400px;text-align:center;top:498.1px;font-size:9px;color:#444;font-weight:500;">0</div>
<div class="t" style="left:359px;width:400px;text-align:center;top:498.1px;font-size:9px;color:#444;font-weight:500;">100</div>
<div class="t" style="left:429.2px;width:400px;text-align:center;top:498.1px;font-size:9px;color:#444;font-weight:500;">0</div>
<div class="t" style="left:499.8px;width:400px;text-align:center;top:498.1px;font-size:9px;color:#444;font-weight:500;">0</div>
<div style="left:183.2px;top:516.6px;width:551.6px;height:1px;background:#d9dee6;"></div>
<div class="t" style="left:45.2px;width:400px;text-align:center;top:522.5px;font-size:8.8px;color:#333;font-weight:700;">卢湾数据 (委托交易 - 并联)</div>
<div class="t" style="left:150.2px;width:400px;text-align:center;top:522.5px;font-size:8.6px;color:#555;font-weight:400;">TORDERS_ES48022</div>
<div class="t" style="left:224.6px;width:400px;text-align:center;top:522.5px;font-size:9px;color:#444;font-weight:500;">0</div>
<div class="t" style="left:290.2px;width:400px;text-align:center;top:522.5px;font-size:9px;color:#444;font-weight:500;">0</div>
<div class="t" style="left:359px;width:400px;text-align:center;top:522.5px;font-size:9px;color:#444;font-weight:500;">0</div>
<div class="t" style="left:429.2px;width:400px;text-align:center;top:522.5px;font-size:9px;color:#444;font-weight:500;">0</div>
<div class="t" style="left:499.8px;width:400px;text-align:center;top:522.5px;font-size:9px;color:#444;font-weight:500;">0</div>
<div style="left:183.2px;top:541px;width:551.6px;height:1px;background:#d9dee6;"></div>
<div class="t" style="left:45.2px;width:400px;text-align:center;top:546.9px;font-size:8.8px;color:#333;font-weight:700;">卢湾数据资产状态</div>
<div class="t" style="left:150.2px;width:400px;text-align:center;top:546.9px;font-size:8.6px;color:#555;font-weight:400;">TORDERS_ES48028</div>
<div class="t" style="left:224.6px;width:400px;text-align:center;top:546.9px;font-size:9px;color:#444;font-weight:500;">8</div>
<div class="t" style="left:290.2px;width:400px;text-align:center;top:546.9px;font-size:9px;color:#444;font-weight:500;">3</div>
<div class="t" style="left:359px;width:400px;text-align:center;top:546.9px;font-size:9px;color:#444;font-weight:500;">5</div>
<div class="t" style="left:429.2px;width:400px;text-align:center;top:546.9px;font-size:9px;color:#444;font-weight:500;">0</div>
<div class="t" style="left:499.8px;width:400px;text-align:center;top:546.9px;font-size:9px;color:#444;font-weight:500;">1</div>
<div style="left:183.2px;top:565.4px;width:551.6px;height:1px;background:#d9dee6;"></div>
<div class="t" style="left:45.2px;width:400px;text-align:center;top:571.3px;font-size:8.8px;color:#333;font-weight:700;">卢湾数据 (委托交易 - 明细)</div>
<div class="t" style="left:150.2px;width:400px;text-align:center;top:571.3px;font-size:8.6px;color:#555;font-weight:400;">TORDERS_ES48019</div>
<div class="t" style="left:224.6px;width:400px;text-align:center;top:571.3px;font-size:9px;color:#444;font-weight:500;">0</div>
<div class="t" style="left:290.2px;width:400px;text-align:center;top:571.3px;font-size:9px;color:#444;font-weight:500;">0</div>
<div class="t" style="left:359px;width:400px;text-align:center;top:571.3px;font-size:9px;color:#444;font-weight:500;">0</div>
<div class="t" style="left:429.2px;width:400px;text-align:center;top:571.3px;font-size:9px;color:#444;font-weight:500;">0</div>
<div class="t" style="left:499.8px;width:400px;text-align:center;top:571.3px;font-size:9px;color:#444;font-weight:500;">0</div>
<div style="left:180.8px;top:588.8px;width:567.2px;height:4.8px;background:#fff;"></div>
<div style="left:735.2px;top:389.6px;width:12.8px;height:199.6px;background:#f3f3f4;"></div>
<div style="left:736.4px;top:407.6px;width:10.4px;height:130.4px;background:#adadaf;"></div>
<div class="t" style="left:541.6px;width:400px;text-align:center;top:391.3px;font-size:8px;color:#888;font-weight:400;">▴</div>
<div class="t" style="left:541.6px;width:400px;text-align:center;top:570.5px;font-size:8px;color:#888;font-weight:400;">▾</div>
<div class="t" style="left:548px;width:400px;text-align:center;top:600.9px;font-size:9.6px;color:#7f97c4;font-weight:400;">Copyright © 2018 ESENSOFT All Rights Reserved 北京亿信华辰软件有限责任公司版权所有</div>
</div></div>
<div class="wm" style="left:418px;top:138.5px;width:250px;font-size:60px;line-height:84px;transform:scaleY(1.04)">亿信华辰</div>
<div class="wm" style="left:418px;top:207.5px;width:250px;font-size:44px;line-height:56px;letter-spacing:-0.4px;transform:scaleY(1.1)">ESENSOFT</div>
<svg class="ov" width="1080" height="483" viewBox="0 0 1080 483">
<rect x="382.8" y="6.9" width="267.9" height="33.45" fill="#0856fd"/>
<rect x="776.9" y="7.1" width="258.1" height="32.9" fill="#0856fd"/>
<rect x="443" y="250.3" width="207.7" height="33" fill="#0856fd"/>
<rect x="827.5" y="248.1" width="207.5" height="33.7" fill="#0856fd"/>
<g fill="none" stroke="#10acef" stroke-width="1.55">
<path d="M97.2 76.3H74V412.8H97.2"/>
<path d="M47 245.3H74"/>
<path d="M74 141.8H97.2"/>
<path d="M74 207.8H97.2"/>
<path d="M74 278H97.2"/>
<path d="M74 346.3H97.2"/>
</g>
<rect x="5" y="164.2" width="42.3" height="163.9" fill="#5d6b89"/>
<rect x="98.1" y="48" width="171.3" height="55" fill="#16c3ff"/>
<rect x="98.1" y="115" width="171.3" height="54.8" fill="#16c3ff"/>
<rect x="98.1" y="181.1" width="171.3" height="54.8" fill="#16c3ff"/>
<rect x="98.1" y="248.1" width="171.3" height="55.3" fill="#16c3ff"/>
<rect x="98.1" y="315.8" width="171.3" height="54.2" fill="#16c3ff"/>
<rect x="98.1" y="383.1" width="171.3" height="54.9" fill="#16c3ff"/>
</svg>
<div class="title" style="left:382.8px;top:7.7px;width:267.9px;height:33.45px;line-height:33.45px">内置质检类型多，扩展性强</div>
<div class="title" style="left:776.9px;top:8.1px;width:258.1px;height:32.9px;line-height:32.9px">质检监控数据简单明了</div>
<div class="title" style="left:443px;top:252.15px;width:207.7px;height:33px;line-height:33px">数据整改更精细</div>
<div class="title" style="left:827.5px;top:249.7px;width:207.5px;height:33.7px;line-height:33.7px">质量报告可自定义</div>
<div class="dark" style="top:197.5px">数<br>据<br>质<br>量</div>
<div class="mtxt" style="top:59.5px">质量规则管理</div>
<div class="mtxt" style="top:126.4px">检查方案管理</div>
<div class="mtxt" style="top:192.5px">质量评估</div>
<div class="mtxt" style="top:259.75px">数据整改</div>
<div class="mtxt" style="top:326.9px">质量分析报告</div>
<div class="mtxt" style="top:394.55px">质量知识库</div>
</div>
</body>
</html>
